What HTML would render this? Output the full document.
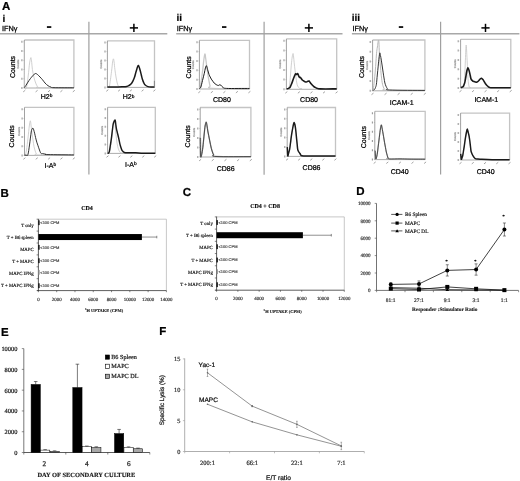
<!DOCTYPE html>
<html><head><meta charset="utf-8"><style>
html,body{margin:0;padding:0;background:#fff;}
body{width:520px;height:481px;overflow:hidden;font-family:"Liberation Sans", sans-serif;}
#w{will-change:transform;width:520px;height:481px;filter:blur(0.3px);}
svg{display:block;text-rendering:geometricPrecision;}
</style></head><body>
<div id="w">
<svg width="520" height="481" viewBox="0 0 520 481">
<rect width="520" height="481" fill="#fff"/>
<text x="2.10" y="10.30" font-size="11.5" font-family='"Liberation Sans", sans-serif' font-weight="bold" text-anchor="start" fill="#000" stroke="#000" stroke-width="0.23" >A</text>
<text x="2.60" y="21.60" font-size="10" font-family='"Liberation Sans", sans-serif' font-weight="bold" text-anchor="start" fill="#000" stroke="#000" stroke-width="0.20" >i</text>
<text x="1.90" y="30.80" font-size="7.3" font-family='"Liberation Sans", sans-serif' font-weight="normal" text-anchor="start" fill="#000" stroke="#000" stroke-width="0.26" >IFN&#947;</text>
<text x="176.60" y="21.00" font-size="10" font-family='"Liberation Sans", sans-serif' font-weight="bold" text-anchor="start" fill="#000" stroke="#000" stroke-width="0.20" >ii</text>
<text x="176.80" y="30.80" font-size="7.3" font-family='"Liberation Sans", sans-serif' font-weight="normal" text-anchor="start" fill="#000" stroke="#000" stroke-width="0.26" >IFN&#947;</text>
<text x="351.80" y="21.00" font-size="10" font-family='"Liberation Sans", sans-serif' font-weight="bold" text-anchor="start" fill="#000" stroke="#000" stroke-width="0.20" >iii</text>
<text x="352.50" y="30.80" font-size="7.3" font-family='"Liberation Sans", sans-serif' font-weight="normal" text-anchor="start" fill="#000" stroke="#000" stroke-width="0.26" >IFN&#947;</text>
<line x1="0.00" y1="33.80" x2="167.30" y2="33.80" stroke="#a8a8a8" stroke-width="1.4" />
<line x1="176.20" y1="33.80" x2="342.50" y2="33.80" stroke="#a8a8a8" stroke-width="1.4" />
<line x1="351.90" y1="33.80" x2="519.40" y2="33.80" stroke="#a8a8a8" stroke-width="1.4" />
<line x1="88.90" y1="21.70" x2="88.90" y2="174.50" stroke="#a0a0a0" stroke-width="1.2" />
<line x1="264.10" y1="21.80" x2="264.10" y2="174.70" stroke="#a0a0a0" stroke-width="1.2" />
<line x1="440.60" y1="21.80" x2="440.60" y2="174.40" stroke="#a0a0a0" stroke-width="1.2" />
<rect x="46.90" y="26.20" width="4.40" height="1.70" fill="#000" stroke="none" stroke-width="0"/>
<rect x="222.00" y="26.20" width="4.40" height="1.70" fill="#000" stroke="none" stroke-width="0"/>
<rect x="398.80" y="26.20" width="4.40" height="1.70" fill="#000" stroke="none" stroke-width="0"/>
<line x1="129.80" y1="27.90" x2="138.00" y2="27.90" stroke="#000" stroke-width="1.5" />
<line x1="133.90" y1="23.80" x2="133.90" y2="32.00" stroke="#000" stroke-width="1.5" />
<line x1="304.80" y1="27.90" x2="313.00" y2="27.90" stroke="#000" stroke-width="1.5" />
<line x1="308.90" y1="23.80" x2="308.90" y2="32.00" stroke="#000" stroke-width="1.5" />
<line x1="481.40" y1="27.90" x2="489.60" y2="27.90" stroke="#000" stroke-width="1.5" />
<line x1="485.50" y1="23.80" x2="485.50" y2="32.00" stroke="#000" stroke-width="1.5" />
<path d="M24.30,40.00 H73.90 V88.00" fill="none" stroke="#c4c4c4" stroke-width="1.3"/>
<line x1="24.30" y1="40.00" x2="24.30" y2="88.00" stroke="#7a7a7a" stroke-width="0.7" />
<line x1="24.30" y1="88.00" x2="73.90" y2="88.00" stroke="#8a8a8a" stroke-width="0.7" />
<line x1="23.40" y1="88.00" x2="24.30" y2="88.00" stroke="#999" stroke-width="0.5" />
<line x1="21.90" y1="87.00" x2="21.90" y2="89.00" stroke="#999" stroke-width="1.1" />
<line x1="23.40" y1="78.77" x2="24.30" y2="78.77" stroke="#999" stroke-width="0.5" />
<line x1="21.90" y1="77.77" x2="21.90" y2="79.77" stroke="#999" stroke-width="1.1" />
<line x1="23.40" y1="69.54" x2="24.30" y2="69.54" stroke="#999" stroke-width="0.5" />
<line x1="21.90" y1="68.54" x2="21.90" y2="70.54" stroke="#999" stroke-width="1.1" />
<line x1="23.40" y1="60.31" x2="24.30" y2="60.31" stroke="#999" stroke-width="0.5" />
<line x1="21.90" y1="59.31" x2="21.90" y2="61.31" stroke="#999" stroke-width="1.1" />
<line x1="23.40" y1="51.08" x2="24.30" y2="51.08" stroke="#999" stroke-width="0.5" />
<line x1="21.90" y1="50.08" x2="21.90" y2="52.08" stroke="#999" stroke-width="1.1" />
<line x1="23.40" y1="41.85" x2="24.30" y2="41.85" stroke="#999" stroke-width="0.5" />
<line x1="21.90" y1="40.85" x2="21.90" y2="42.85" stroke="#999" stroke-width="1.1" />
<line x1="23.20" y1="91.90" x2="25.20" y2="90.30" stroke="#9a9a9a" stroke-width="0.9" />
<line x1="35.60" y1="91.90" x2="37.60" y2="90.30" stroke="#9a9a9a" stroke-width="0.9" />
<line x1="48.00" y1="91.90" x2="50.00" y2="90.30" stroke="#9a9a9a" stroke-width="0.9" />
<line x1="60.40" y1="91.90" x2="62.40" y2="90.30" stroke="#9a9a9a" stroke-width="0.9" />
<line x1="72.80" y1="91.90" x2="74.80" y2="90.30" stroke="#9a9a9a" stroke-width="0.9" />
<path d="M24.50,70.00 C24.55,72.92 24.47,84.62 24.80,87.50 C25.13,90.38 25.93,89.22 26.50,87.30 C27.07,85.38 27.68,80.05 28.20,76.00 C28.72,71.95 29.15,66.07 29.60,63.00 C30.05,59.93 30.55,57.68 30.90,57.60 C31.25,57.52 31.45,60.53 31.70,62.50 C31.95,64.47 32.02,66.90 32.40,69.40 C32.78,71.90 33.45,75.23 34.00,77.50 C34.55,79.77 35.12,81.48 35.70,83.00 C36.28,84.52 36.87,85.83 37.50,86.60 C38.13,87.37 33.43,87.40 39.50,87.60 C45.57,87.80 68.17,87.77 73.90,87.80" fill="none" stroke="#c4c4c4" stroke-width="0.8" stroke-linejoin="round"/>
<path d="M24.30,87.60 C24.58,87.22 25.22,86.48 26.00,85.30 C26.78,84.12 28.08,81.85 29.00,80.50 C29.92,79.15 30.75,78.12 31.50,77.20 C32.25,76.28 32.92,75.60 33.50,75.00 C34.08,74.40 34.53,73.82 35.00,73.60 C35.47,73.38 35.87,73.53 36.30,73.70 C36.73,73.87 36.98,74.05 37.60,74.60 C38.22,75.15 39.20,76.17 40.00,77.00 C40.80,77.83 41.57,78.60 42.40,79.60 C43.23,80.60 44.07,81.98 45.00,83.00 C45.93,84.02 47.00,85.02 48.00,85.70 C49.00,86.38 50.00,86.77 51.00,87.10 C52.00,87.43 50.18,87.58 54.00,87.70 C57.82,87.82 70.58,87.78 73.90,87.80" fill="none" stroke="#1a1a1a" stroke-width="0.9" stroke-linejoin="round"/>
<text x="40.80" y="98.90" font-size="7" font-family='"Liberation Sans", sans-serif' fill="#000" stroke="#000" stroke-width="0.24">H2<tspan font-size="4.8" dy="-1.7">b</tspan></text>
<text x="0" y="0" transform="translate(14.60,67.00) rotate(-90)" font-size="7" font-family='"Liberation Sans", sans-serif' text-anchor="middle" fill="#000" stroke="#000" stroke-width="0.24">Counts</text>
<text x="0" y="0" transform="translate(19.30,64.00) rotate(-90)" font-size="2.8" font-family='"Liberation Sans", sans-serif' text-anchor="middle" fill="#999" stroke="#999" stroke-width="0.2">Counts</text>
<path d="M107.40,40.80 H154.50 V87.40" fill="none" stroke="#c4c4c4" stroke-width="1.3"/>
<line x1="107.40" y1="40.80" x2="107.40" y2="87.40" stroke="#7a7a7a" stroke-width="0.7" />
<line x1="107.40" y1="87.40" x2="154.50" y2="87.40" stroke="#8a8a8a" stroke-width="0.7" />
<line x1="106.50" y1="87.40" x2="107.40" y2="87.40" stroke="#999" stroke-width="0.5" />
<line x1="105.00" y1="86.40" x2="105.00" y2="88.40" stroke="#999" stroke-width="1.1" />
<line x1="106.50" y1="78.44" x2="107.40" y2="78.44" stroke="#999" stroke-width="0.5" />
<line x1="105.00" y1="77.44" x2="105.00" y2="79.44" stroke="#999" stroke-width="1.1" />
<line x1="106.50" y1="69.48" x2="107.40" y2="69.48" stroke="#999" stroke-width="0.5" />
<line x1="105.00" y1="68.48" x2="105.00" y2="70.48" stroke="#999" stroke-width="1.1" />
<line x1="106.50" y1="60.52" x2="107.40" y2="60.52" stroke="#999" stroke-width="0.5" />
<line x1="105.00" y1="59.52" x2="105.00" y2="61.52" stroke="#999" stroke-width="1.1" />
<line x1="106.50" y1="51.55" x2="107.40" y2="51.55" stroke="#999" stroke-width="0.5" />
<line x1="105.00" y1="50.55" x2="105.00" y2="52.55" stroke="#999" stroke-width="1.1" />
<line x1="106.50" y1="42.59" x2="107.40" y2="42.59" stroke="#999" stroke-width="0.5" />
<line x1="105.00" y1="41.59" x2="105.00" y2="43.59" stroke="#999" stroke-width="1.1" />
<line x1="106.30" y1="91.30" x2="108.30" y2="89.70" stroke="#9a9a9a" stroke-width="0.9" />
<line x1="118.08" y1="91.30" x2="120.08" y2="89.70" stroke="#9a9a9a" stroke-width="0.9" />
<line x1="129.85" y1="91.30" x2="131.85" y2="89.70" stroke="#9a9a9a" stroke-width="0.9" />
<line x1="141.62" y1="91.30" x2="143.62" y2="89.70" stroke="#9a9a9a" stroke-width="0.9" />
<line x1="153.40" y1="91.30" x2="155.40" y2="89.70" stroke="#9a9a9a" stroke-width="0.9" />
<path d="M108.50,87.30 C108.67,87.08 109.00,88.60 109.50,86.00 C110.00,83.40 110.98,75.70 111.50,71.70 C112.02,67.70 112.28,64.15 112.60,62.00 C112.92,59.85 113.15,58.80 113.40,58.80 C113.65,58.80 113.85,60.23 114.10,62.00 C114.35,63.77 114.58,66.90 114.90,69.40 C115.22,71.90 115.62,74.75 116.00,77.00 C116.38,79.25 116.73,81.27 117.20,82.90 C117.67,84.53 118.17,86.07 118.80,86.80 C119.43,87.53 120.63,87.22 121.00,87.30" fill="none" stroke="#c4c4c4" stroke-width="0.8" stroke-linejoin="round"/>
<path d="M107.40,86.90 C108.67,86.90 112.57,86.93 115.00,86.90 C117.43,86.87 120.05,86.78 122.00,86.70 C123.95,86.62 125.53,86.60 126.70,86.40 C127.87,86.20 128.25,85.93 129.00,85.50 C129.75,85.07 130.53,84.58 131.20,83.80 C131.87,83.02 132.45,81.88 133.00,80.80 C133.55,79.72 134.03,78.68 134.50,77.30 C134.97,75.92 135.42,73.85 135.80,72.50 C136.18,71.15 136.42,70.37 136.80,69.20 C137.18,68.03 137.70,65.82 138.10,65.50 C138.50,65.18 138.85,66.47 139.20,67.30 C139.55,68.13 139.85,69.22 140.20,70.50 C140.55,71.78 140.93,73.53 141.30,75.00 C141.67,76.47 141.98,78.00 142.40,79.30 C142.82,80.60 143.33,81.85 143.80,82.80 C144.27,83.75 144.50,84.37 145.20,85.00 C145.90,85.63 146.87,86.28 148.00,86.60 C149.13,86.92 150.92,86.85 152.00,86.90 C153.08,86.95 154.08,86.90 154.50,86.90" fill="none" stroke="#1a1a1a" stroke-width="1.5" stroke-linejoin="round"/>
<text x="122.70" y="99.20" font-size="7" font-family='"Liberation Sans", sans-serif' fill="#000" stroke="#000" stroke-width="0.24">H2<tspan font-size="4.8" dy="-1.7">b</tspan></text>
<text x="0" y="0" transform="translate(102.40,64.10) rotate(-90)" font-size="2.8" font-family='"Liberation Sans", sans-serif' text-anchor="middle" fill="#999" stroke="#999" stroke-width="0.2">Counts</text>
<line x1="154.40" y1="80.80" x2="154.40" y2="87.20" stroke="#777" stroke-width="0.8" />
<path d="M24.50,107.40 H73.90 V155.40" fill="none" stroke="#c4c4c4" stroke-width="1.3"/>
<line x1="24.50" y1="107.40" x2="24.50" y2="155.40" stroke="#7a7a7a" stroke-width="0.7" />
<line x1="24.50" y1="155.40" x2="73.90" y2="155.40" stroke="#8a8a8a" stroke-width="0.7" />
<line x1="23.60" y1="155.40" x2="24.50" y2="155.40" stroke="#999" stroke-width="0.5" />
<line x1="22.10" y1="154.40" x2="22.10" y2="156.40" stroke="#999" stroke-width="1.1" />
<line x1="23.60" y1="146.17" x2="24.50" y2="146.17" stroke="#999" stroke-width="0.5" />
<line x1="22.10" y1="145.17" x2="22.10" y2="147.17" stroke="#999" stroke-width="1.1" />
<line x1="23.60" y1="136.94" x2="24.50" y2="136.94" stroke="#999" stroke-width="0.5" />
<line x1="22.10" y1="135.94" x2="22.10" y2="137.94" stroke="#999" stroke-width="1.1" />
<line x1="23.60" y1="127.71" x2="24.50" y2="127.71" stroke="#999" stroke-width="0.5" />
<line x1="22.10" y1="126.71" x2="22.10" y2="128.71" stroke="#999" stroke-width="1.1" />
<line x1="23.60" y1="118.48" x2="24.50" y2="118.48" stroke="#999" stroke-width="0.5" />
<line x1="22.10" y1="117.48" x2="22.10" y2="119.48" stroke="#999" stroke-width="1.1" />
<line x1="23.60" y1="109.25" x2="24.50" y2="109.25" stroke="#999" stroke-width="0.5" />
<line x1="22.10" y1="108.25" x2="22.10" y2="110.25" stroke="#999" stroke-width="1.1" />
<line x1="23.40" y1="159.30" x2="25.40" y2="157.70" stroke="#9a9a9a" stroke-width="0.9" />
<line x1="35.75" y1="159.30" x2="37.75" y2="157.70" stroke="#9a9a9a" stroke-width="0.9" />
<line x1="48.10" y1="159.30" x2="50.10" y2="157.70" stroke="#9a9a9a" stroke-width="0.9" />
<line x1="60.45" y1="159.30" x2="62.45" y2="157.70" stroke="#9a9a9a" stroke-width="0.9" />
<line x1="72.80" y1="159.30" x2="74.80" y2="157.70" stroke="#9a9a9a" stroke-width="0.9" />
<path d="M25.30,155.20 C25.50,154.33 26.05,152.87 26.50,150.00 C26.95,147.13 27.53,142.00 28.00,138.00 C28.47,134.00 28.92,128.87 29.30,126.00 C29.68,123.13 30.02,120.97 30.30,120.80 C30.58,120.63 30.75,123.13 31.00,125.00 C31.25,126.87 31.47,129.50 31.80,132.00 C32.13,134.50 32.63,137.57 33.00,140.00 C33.37,142.43 33.63,144.77 34.00,146.60 C34.37,148.43 34.82,149.83 35.20,151.00 C35.58,152.17 35.83,152.93 36.30,153.60 C36.77,154.27 31.73,154.73 38.00,155.00 C44.27,155.27 67.92,155.17 73.90,155.20" fill="none" stroke="#c4c4c4" stroke-width="0.8" stroke-linejoin="round"/>
<path d="M24.50,155.20 C24.75,155.18 25.43,155.20 26.00,155.10 C26.57,155.00 27.32,156.28 27.90,154.60 C28.48,152.92 28.95,148.77 29.50,145.00 C30.05,141.23 30.77,134.67 31.20,132.00 C31.63,129.33 31.82,129.65 32.10,129.00 C32.38,128.35 32.63,127.97 32.90,128.10 C33.17,128.23 33.42,128.95 33.70,129.80 C33.98,130.65 34.28,131.90 34.60,133.20 C34.92,134.50 35.23,136.10 35.60,137.60 C35.97,139.10 36.40,140.85 36.80,142.20 C37.20,143.55 37.62,144.58 38.00,145.70 C38.38,146.82 38.63,147.65 39.10,148.90 C39.57,150.15 40.23,152.42 40.80,153.20 C41.37,153.98 41.97,153.48 42.50,153.60 C43.03,153.72 43.42,153.78 44.00,153.90 C44.58,154.02 45.33,154.18 46.00,154.30 C46.67,154.42 43.35,154.50 48.00,154.60 C52.65,154.70 69.58,154.85 73.90,154.90" fill="none" stroke="#1a1a1a" stroke-width="0.9" stroke-linejoin="round"/>
<text x="44.50" y="168.00" font-size="7" font-family='"Liberation Sans", sans-serif' fill="#000" stroke="#000" stroke-width="0.24">I-A<tspan font-size="4.8" dy="-1.7">b</tspan></text>
<text x="0" y="0" transform="translate(14.00,136.30) rotate(-90)" font-size="7" font-family='"Liberation Sans", sans-serif' text-anchor="middle" fill="#000" stroke="#000" stroke-width="0.24">Counts</text>
<text x="0" y="0" transform="translate(19.50,131.40) rotate(-90)" font-size="2.8" font-family='"Liberation Sans", sans-serif' text-anchor="middle" fill="#999" stroke="#999" stroke-width="0.2">Counts</text>
<path d="M107.60,107.40 H155.30 V153.40" fill="none" stroke="#c4c4c4" stroke-width="1.3"/>
<line x1="107.60" y1="107.40" x2="107.60" y2="153.40" stroke="#7a7a7a" stroke-width="0.7" />
<line x1="107.60" y1="153.40" x2="155.30" y2="153.40" stroke="#8a8a8a" stroke-width="0.7" />
<line x1="106.70" y1="153.40" x2="107.60" y2="153.40" stroke="#999" stroke-width="0.5" />
<line x1="105.20" y1="152.40" x2="105.20" y2="154.40" stroke="#999" stroke-width="1.1" />
<line x1="106.70" y1="144.55" x2="107.60" y2="144.55" stroke="#999" stroke-width="0.5" />
<line x1="105.20" y1="143.55" x2="105.20" y2="145.55" stroke="#999" stroke-width="1.1" />
<line x1="106.70" y1="135.71" x2="107.60" y2="135.71" stroke="#999" stroke-width="0.5" />
<line x1="105.20" y1="134.71" x2="105.20" y2="136.71" stroke="#999" stroke-width="1.1" />
<line x1="106.70" y1="126.86" x2="107.60" y2="126.86" stroke="#999" stroke-width="0.5" />
<line x1="105.20" y1="125.86" x2="105.20" y2="127.86" stroke="#999" stroke-width="1.1" />
<line x1="106.70" y1="118.02" x2="107.60" y2="118.02" stroke="#999" stroke-width="0.5" />
<line x1="105.20" y1="117.02" x2="105.20" y2="119.02" stroke="#999" stroke-width="1.1" />
<line x1="106.70" y1="109.17" x2="107.60" y2="109.17" stroke="#999" stroke-width="0.5" />
<line x1="105.20" y1="108.17" x2="105.20" y2="110.17" stroke="#999" stroke-width="1.1" />
<line x1="106.50" y1="157.30" x2="108.50" y2="155.70" stroke="#9a9a9a" stroke-width="0.9" />
<line x1="118.43" y1="157.30" x2="120.43" y2="155.70" stroke="#9a9a9a" stroke-width="0.9" />
<line x1="130.35" y1="157.30" x2="132.35" y2="155.70" stroke="#9a9a9a" stroke-width="0.9" />
<line x1="142.28" y1="157.30" x2="144.28" y2="155.70" stroke="#9a9a9a" stroke-width="0.9" />
<line x1="154.20" y1="157.30" x2="156.20" y2="155.70" stroke="#9a9a9a" stroke-width="0.9" />
<path d="M109.00,153.20 C109.23,152.48 109.93,151.77 110.40,148.90 C110.87,146.03 111.33,140.30 111.80,136.00 C112.27,131.70 112.73,125.63 113.20,123.10 C113.67,120.57 114.22,119.65 114.60,120.80 C114.98,121.95 115.18,126.97 115.50,130.00 C115.82,133.03 116.13,136.23 116.50,139.00 C116.87,141.77 117.12,144.38 117.70,146.60 C118.28,148.82 119.12,151.23 120.00,152.30 C120.88,153.37 122.50,152.88 123.00,153.00" fill="none" stroke="#c4c4c4" stroke-width="0.8" stroke-linejoin="round"/>
<path d="M107.60,153.20 C107.70,153.20 107.92,153.47 108.20,153.20 C108.48,152.93 108.93,152.97 109.30,151.60 C109.67,150.23 110.03,147.32 110.40,145.00 C110.77,142.68 111.17,140.20 111.50,137.70 C111.83,135.20 112.12,132.25 112.40,130.00 C112.68,127.75 112.88,125.70 113.20,124.20 C113.52,122.70 113.97,121.65 114.30,121.00 C114.63,120.35 114.95,119.72 115.20,120.30 C115.45,120.88 115.60,123.10 115.80,124.50 C116.00,125.90 116.13,127.32 116.40,128.70 C116.67,130.08 117.08,131.50 117.40,132.80 C117.72,134.10 118.00,135.20 118.30,136.50 C118.60,137.80 118.92,139.28 119.20,140.60 C119.48,141.92 119.68,143.17 120.00,144.40 C120.32,145.63 120.73,146.97 121.10,148.00 C121.47,149.03 121.65,149.85 122.20,150.60 C122.75,151.35 123.10,152.15 124.40,152.50 C125.70,152.85 128.12,152.65 130.00,152.70 C131.88,152.75 133.45,152.72 135.70,152.80 C137.95,152.88 140.23,153.13 143.50,153.20 C146.77,153.27 153.33,153.20 155.30,153.20" fill="none" stroke="#1a1a1a" stroke-width="1.45" stroke-linejoin="round"/>
<text x="125.00" y="166.80" font-size="7" font-family='"Liberation Sans", sans-serif' fill="#000" stroke="#000" stroke-width="0.24">I-A<tspan font-size="4.8" dy="-1.7">b</tspan></text>
<text x="0" y="0" transform="translate(102.60,130.40) rotate(-90)" font-size="2.8" font-family='"Liberation Sans", sans-serif' text-anchor="middle" fill="#999" stroke="#999" stroke-width="0.2">Counts</text>
<path d="M199.40,40.40 H249.50 V89.00" fill="none" stroke="#c4c4c4" stroke-width="1.3"/>
<line x1="199.40" y1="40.40" x2="199.40" y2="89.00" stroke="#7a7a7a" stroke-width="0.7" />
<line x1="199.40" y1="89.00" x2="249.50" y2="89.00" stroke="#8a8a8a" stroke-width="0.7" />
<line x1="198.50" y1="89.00" x2="199.40" y2="89.00" stroke="#999" stroke-width="0.5" />
<line x1="197.00" y1="88.00" x2="197.00" y2="90.00" stroke="#999" stroke-width="1.1" />
<line x1="198.50" y1="79.65" x2="199.40" y2="79.65" stroke="#999" stroke-width="0.5" />
<line x1="197.00" y1="78.65" x2="197.00" y2="80.65" stroke="#999" stroke-width="1.1" />
<line x1="198.50" y1="70.31" x2="199.40" y2="70.31" stroke="#999" stroke-width="0.5" />
<line x1="197.00" y1="69.31" x2="197.00" y2="71.31" stroke="#999" stroke-width="1.1" />
<line x1="198.50" y1="60.96" x2="199.40" y2="60.96" stroke="#999" stroke-width="0.5" />
<line x1="197.00" y1="59.96" x2="197.00" y2="61.96" stroke="#999" stroke-width="1.1" />
<line x1="198.50" y1="51.62" x2="199.40" y2="51.62" stroke="#999" stroke-width="0.5" />
<line x1="197.00" y1="50.62" x2="197.00" y2="52.62" stroke="#999" stroke-width="1.1" />
<line x1="198.50" y1="42.27" x2="199.40" y2="42.27" stroke="#999" stroke-width="0.5" />
<line x1="197.00" y1="41.27" x2="197.00" y2="43.27" stroke="#999" stroke-width="1.1" />
<line x1="198.30" y1="92.90" x2="200.30" y2="91.30" stroke="#9a9a9a" stroke-width="0.9" />
<line x1="210.83" y1="92.90" x2="212.83" y2="91.30" stroke="#9a9a9a" stroke-width="0.9" />
<line x1="223.35" y1="92.90" x2="225.35" y2="91.30" stroke="#9a9a9a" stroke-width="0.9" />
<line x1="235.88" y1="92.90" x2="237.88" y2="91.30" stroke="#9a9a9a" stroke-width="0.9" />
<line x1="248.40" y1="92.90" x2="250.40" y2="91.30" stroke="#9a9a9a" stroke-width="0.9" />
<path d="M199.80,88.50 C199.92,88.17 200.22,88.08 200.50,86.50 C200.78,84.92 201.15,81.60 201.50,79.00 C201.85,76.40 202.22,74.07 202.60,70.90 C202.98,67.73 203.42,62.82 203.80,60.00 C204.18,57.18 204.58,54.25 204.90,54.00 C205.22,53.75 205.42,56.65 205.70,58.50 C205.98,60.35 206.30,62.93 206.60,65.10 C206.90,67.27 207.20,69.37 207.50,71.50 C207.80,73.63 208.10,76.07 208.40,77.90 C208.70,79.73 209.02,81.13 209.30,82.50 C209.58,83.87 209.65,85.13 210.10,86.10 C210.55,87.07 205.43,87.90 212.00,88.30 C218.57,88.70 243.25,88.47 249.50,88.50" fill="none" stroke="#c8c8c8" stroke-width="1.3" stroke-linejoin="round"/>
<path d="M199.40,88.60 C199.63,88.37 200.28,88.55 200.80,87.20 C201.32,85.85 201.92,82.82 202.50,80.50 C203.08,78.18 203.82,75.38 204.30,73.30 C204.78,71.22 205.05,69.27 205.40,68.00 C205.75,66.73 206.03,65.45 206.40,65.70 C206.77,65.95 207.17,68.05 207.60,69.50 C208.03,70.95 208.57,73.15 209.00,74.40 C209.43,75.65 209.82,76.22 210.20,77.00 C210.58,77.78 210.87,78.40 211.30,79.10 C211.73,79.80 212.32,80.53 212.80,81.20 C213.28,81.87 213.63,82.53 214.20,83.10 C214.77,83.67 215.52,84.20 216.20,84.60 C216.88,85.00 217.67,85.50 218.30,85.50 C218.93,85.50 219.47,84.52 220.00,84.60 C220.53,84.68 221.00,85.57 221.50,86.00 C222.00,86.43 222.18,86.80 223.00,87.20 C223.82,87.60 221.98,88.17 226.40,88.40 C230.82,88.63 245.65,88.57 249.50,88.60" fill="none" stroke="#1a1a1a" stroke-width="1.0" stroke-linejoin="round"/>
<text x="213.00" y="102.40" font-size="7" font-family='"Liberation Sans", sans-serif' fill="#000" stroke="#000" stroke-width="0.24">CD80</text>
<text x="0" y="0" transform="translate(190.70,67.30) rotate(-90)" font-size="7" font-family='"Liberation Sans", sans-serif' text-anchor="middle" fill="#000" stroke="#000" stroke-width="0.24">Counts</text>
<text x="0" y="0" transform="translate(194.40,64.70) rotate(-90)" font-size="2.8" font-family='"Liberation Sans", sans-serif' text-anchor="middle" fill="#999" stroke="#999" stroke-width="0.2">Counts</text>
<path d="M286.40,38.90 H336.70 V89.30" fill="none" stroke="#c4c4c4" stroke-width="1.3"/>
<line x1="286.40" y1="38.90" x2="286.40" y2="89.30" stroke="#7a7a7a" stroke-width="0.7" />
<line x1="286.40" y1="89.30" x2="336.70" y2="89.30" stroke="#8a8a8a" stroke-width="0.7" />
<line x1="285.50" y1="89.30" x2="286.40" y2="89.30" stroke="#999" stroke-width="0.5" />
<line x1="284.00" y1="88.30" x2="284.00" y2="90.30" stroke="#999" stroke-width="1.1" />
<line x1="285.50" y1="79.61" x2="286.40" y2="79.61" stroke="#999" stroke-width="0.5" />
<line x1="284.00" y1="78.61" x2="284.00" y2="80.61" stroke="#999" stroke-width="1.1" />
<line x1="285.50" y1="69.92" x2="286.40" y2="69.92" stroke="#999" stroke-width="0.5" />
<line x1="284.00" y1="68.92" x2="284.00" y2="70.92" stroke="#999" stroke-width="1.1" />
<line x1="285.50" y1="60.22" x2="286.40" y2="60.22" stroke="#999" stroke-width="0.5" />
<line x1="284.00" y1="59.22" x2="284.00" y2="61.22" stroke="#999" stroke-width="1.1" />
<line x1="285.50" y1="50.53" x2="286.40" y2="50.53" stroke="#999" stroke-width="0.5" />
<line x1="284.00" y1="49.53" x2="284.00" y2="51.53" stroke="#999" stroke-width="1.1" />
<line x1="285.50" y1="40.84" x2="286.40" y2="40.84" stroke="#999" stroke-width="0.5" />
<line x1="284.00" y1="39.84" x2="284.00" y2="41.84" stroke="#999" stroke-width="1.1" />
<line x1="285.30" y1="93.20" x2="287.30" y2="91.60" stroke="#9a9a9a" stroke-width="0.9" />
<line x1="297.87" y1="93.20" x2="299.87" y2="91.60" stroke="#9a9a9a" stroke-width="0.9" />
<line x1="310.45" y1="93.20" x2="312.45" y2="91.60" stroke="#9a9a9a" stroke-width="0.9" />
<line x1="323.02" y1="93.20" x2="325.02" y2="91.60" stroke="#9a9a9a" stroke-width="0.9" />
<line x1="335.60" y1="93.20" x2="337.60" y2="91.60" stroke="#9a9a9a" stroke-width="0.9" />
<path d="M287.50,88.60 C287.68,88.47 288.25,88.42 288.60,87.80 C288.95,87.18 289.28,87.03 289.60,84.90 C289.92,82.77 290.22,78.30 290.50,75.00 C290.78,71.70 291.02,68.10 291.30,65.10 C291.58,62.10 291.90,58.93 292.20,57.00 C292.50,55.07 292.87,53.50 293.10,53.50 C293.33,53.50 293.42,55.45 293.60,57.00 C293.78,58.55 293.97,60.63 294.20,62.80 C294.43,64.97 294.70,67.48 295.00,70.00 C295.30,72.52 295.70,75.73 296.00,77.90 C296.30,80.07 296.52,81.63 296.80,83.00 C297.08,84.37 297.25,85.22 297.70,86.10 C298.15,86.98 298.78,87.88 299.50,88.30 C300.22,88.72 301.58,88.55 302.00,88.60" fill="none" stroke="#c4c4c4" stroke-width="0.8" stroke-linejoin="round"/>
<path d="M286.70,88.90 C287.00,88.82 287.93,88.68 288.50,88.40 C289.07,88.12 289.63,87.85 290.10,87.20 C290.57,86.55 290.90,85.47 291.30,84.50 C291.70,83.53 292.15,82.35 292.50,81.40 C292.85,80.45 293.12,79.58 293.40,78.80 C293.68,78.02 293.93,77.37 294.20,76.70 C294.47,76.03 294.75,75.28 295.00,74.80 C295.25,74.32 295.42,73.85 295.70,73.80 C295.98,73.75 296.37,74.53 296.70,74.50 C297.03,74.47 297.38,73.38 297.70,73.60 C298.02,73.82 298.30,75.18 298.60,75.80 C298.90,76.42 299.20,77.02 299.50,77.30 C299.80,77.58 300.12,77.30 300.40,77.50 C300.68,77.70 300.88,78.08 301.20,78.50 C301.52,78.92 301.92,79.62 302.30,80.00 C302.68,80.38 303.05,80.52 303.50,80.80 C303.95,81.08 304.52,81.50 305.00,81.70 C305.48,81.90 305.93,82.07 306.40,82.00 C306.87,81.93 307.37,81.45 307.80,81.30 C308.23,81.15 308.63,80.93 309.00,81.10 C309.37,81.27 309.65,81.87 310.00,82.30 C310.35,82.73 310.73,83.25 311.10,83.70 C311.47,84.15 311.82,84.60 312.20,85.00 C312.58,85.40 312.93,85.72 313.40,86.10 C313.87,86.48 314.42,86.95 315.00,87.30 C315.58,87.65 316.00,87.93 316.90,88.20 C317.80,88.47 317.10,88.78 320.40,88.90 C323.70,89.02 333.98,88.90 336.70,88.90" fill="none" stroke="#1a1a1a" stroke-width="1.6" stroke-linejoin="round"/>
<text x="300.10" y="102.40" font-size="7" font-family='"Liberation Sans", sans-serif' fill="#000" stroke="#000" stroke-width="0.24">CD80</text>
<text x="0" y="0" transform="translate(281.40,64.10) rotate(-90)" font-size="2.8" font-family='"Liberation Sans", sans-serif' text-anchor="middle" fill="#999" stroke="#999" stroke-width="0.2">Counts</text>
<path d="M200.20,107.50 H250.90 V157.00" fill="none" stroke="#c4c4c4" stroke-width="1.3"/>
<line x1="200.20" y1="107.50" x2="200.20" y2="157.00" stroke="#7a7a7a" stroke-width="0.7" />
<line x1="200.20" y1="157.00" x2="250.90" y2="157.00" stroke="#8a8a8a" stroke-width="0.7" />
<line x1="199.30" y1="157.00" x2="200.20" y2="157.00" stroke="#999" stroke-width="0.5" />
<line x1="197.80" y1="156.00" x2="197.80" y2="158.00" stroke="#999" stroke-width="1.1" />
<line x1="199.30" y1="147.48" x2="200.20" y2="147.48" stroke="#999" stroke-width="0.5" />
<line x1="197.80" y1="146.48" x2="197.80" y2="148.48" stroke="#999" stroke-width="1.1" />
<line x1="199.30" y1="137.96" x2="200.20" y2="137.96" stroke="#999" stroke-width="0.5" />
<line x1="197.80" y1="136.96" x2="197.80" y2="138.96" stroke="#999" stroke-width="1.1" />
<line x1="199.30" y1="128.44" x2="200.20" y2="128.44" stroke="#999" stroke-width="0.5" />
<line x1="197.80" y1="127.44" x2="197.80" y2="129.44" stroke="#999" stroke-width="1.1" />
<line x1="199.30" y1="118.92" x2="200.20" y2="118.92" stroke="#999" stroke-width="0.5" />
<line x1="197.80" y1="117.92" x2="197.80" y2="119.92" stroke="#999" stroke-width="1.1" />
<line x1="199.30" y1="109.40" x2="200.20" y2="109.40" stroke="#999" stroke-width="0.5" />
<line x1="197.80" y1="108.40" x2="197.80" y2="110.40" stroke="#999" stroke-width="1.1" />
<line x1="199.10" y1="160.90" x2="201.10" y2="159.30" stroke="#9a9a9a" stroke-width="0.9" />
<line x1="211.78" y1="160.90" x2="213.78" y2="159.30" stroke="#9a9a9a" stroke-width="0.9" />
<line x1="224.45" y1="160.90" x2="226.45" y2="159.30" stroke="#9a9a9a" stroke-width="0.9" />
<line x1="237.12" y1="160.90" x2="239.12" y2="159.30" stroke="#9a9a9a" stroke-width="0.9" />
<line x1="249.80" y1="160.90" x2="251.80" y2="159.30" stroke="#9a9a9a" stroke-width="0.9" />
<path d="M200.50,138.00 C200.57,141.00 200.65,153.52 200.90,156.00 C201.15,158.48 201.65,154.57 202.00,152.90 C202.35,151.23 202.72,148.33 203.00,146.00 C203.28,143.67 203.38,142.02 203.70,138.90 C204.02,135.78 204.58,129.87 204.90,127.30 C205.22,124.73 205.37,124.38 205.60,123.50 C205.83,122.62 206.07,121.67 206.30,122.00 C206.53,122.33 206.75,124.03 207.00,125.50 C207.25,126.97 207.52,129.13 207.80,130.80 C208.08,132.47 208.40,133.95 208.70,135.50 C209.00,137.05 209.30,138.60 209.60,140.10 C209.90,141.60 210.22,143.15 210.50,144.50 C210.78,145.85 210.98,146.98 211.30,148.20 C211.62,149.42 212.02,150.73 212.40,151.80 C212.78,152.87 213.00,153.83 213.60,154.60 C214.20,155.37 209.78,156.07 216.00,156.40 C222.22,156.73 245.08,156.57 250.90,156.60" fill="none" stroke="#a0a0a0" stroke-width="1.3" stroke-linejoin="round"/>
<path d="M200.20,137.80 C200.27,140.92 200.30,153.97 200.60,156.50 C200.90,159.03 201.60,154.75 202.00,153.00 C202.40,151.25 202.72,148.33 203.00,146.00 C203.28,143.67 203.38,142.08 203.70,139.00 C204.02,135.92 204.58,130.03 204.90,127.50 C205.22,124.97 205.37,124.67 205.60,123.80 C205.83,122.93 206.07,121.97 206.30,122.30 C206.53,122.63 206.75,124.35 207.00,125.80 C207.25,127.25 207.52,129.37 207.80,131.00 C208.08,132.63 208.40,134.07 208.70,135.60 C209.00,137.13 209.30,138.70 209.60,140.20 C209.90,141.70 210.22,143.25 210.50,144.60 C210.78,145.95 210.98,147.08 211.30,148.30 C211.62,149.52 212.02,150.83 212.40,151.90 C212.78,152.97 213.00,153.93 213.60,154.70 C214.20,155.47 209.78,156.18 216.00,156.50 C222.22,156.82 245.08,156.58 250.90,156.60" fill="none" stroke="#333" stroke-width="0.8" stroke-linejoin="round"/>
<text x="216.70" y="170.60" font-size="7" font-family='"Liberation Sans", sans-serif' fill="#000" stroke="#000" stroke-width="0.24">CD86</text>
<text x="0" y="0" transform="translate(190.30,136.30) rotate(-90)" font-size="7" font-family='"Liberation Sans", sans-serif' text-anchor="middle" fill="#000" stroke="#000" stroke-width="0.24">Counts</text>
<text x="0" y="0" transform="translate(195.20,132.25) rotate(-90)" font-size="2.8" font-family='"Liberation Sans", sans-serif' text-anchor="middle" fill="#999" stroke="#999" stroke-width="0.2">Counts</text>
<path d="M287.20,107.50 H335.50 V156.40" fill="none" stroke="#c4c4c4" stroke-width="1.3"/>
<line x1="287.20" y1="107.50" x2="287.20" y2="156.40" stroke="#7a7a7a" stroke-width="0.7" />
<line x1="287.20" y1="156.40" x2="335.50" y2="156.40" stroke="#8a8a8a" stroke-width="0.7" />
<line x1="286.30" y1="156.40" x2="287.20" y2="156.40" stroke="#999" stroke-width="0.5" />
<line x1="284.80" y1="155.40" x2="284.80" y2="157.40" stroke="#999" stroke-width="1.1" />
<line x1="286.30" y1="147.00" x2="287.20" y2="147.00" stroke="#999" stroke-width="0.5" />
<line x1="284.80" y1="146.00" x2="284.80" y2="148.00" stroke="#999" stroke-width="1.1" />
<line x1="286.30" y1="137.59" x2="287.20" y2="137.59" stroke="#999" stroke-width="0.5" />
<line x1="284.80" y1="136.59" x2="284.80" y2="138.59" stroke="#999" stroke-width="1.1" />
<line x1="286.30" y1="128.19" x2="287.20" y2="128.19" stroke="#999" stroke-width="0.5" />
<line x1="284.80" y1="127.19" x2="284.80" y2="129.19" stroke="#999" stroke-width="1.1" />
<line x1="286.30" y1="118.78" x2="287.20" y2="118.78" stroke="#999" stroke-width="0.5" />
<line x1="284.80" y1="117.78" x2="284.80" y2="119.78" stroke="#999" stroke-width="1.1" />
<line x1="286.30" y1="109.38" x2="287.20" y2="109.38" stroke="#999" stroke-width="0.5" />
<line x1="284.80" y1="108.38" x2="284.80" y2="110.38" stroke="#999" stroke-width="1.1" />
<line x1="286.10" y1="160.30" x2="288.10" y2="158.70" stroke="#9a9a9a" stroke-width="0.9" />
<line x1="298.17" y1="160.30" x2="300.17" y2="158.70" stroke="#9a9a9a" stroke-width="0.9" />
<line x1="310.25" y1="160.30" x2="312.25" y2="158.70" stroke="#9a9a9a" stroke-width="0.9" />
<line x1="322.32" y1="160.30" x2="324.32" y2="158.70" stroke="#9a9a9a" stroke-width="0.9" />
<line x1="334.40" y1="160.30" x2="336.40" y2="158.70" stroke="#9a9a9a" stroke-width="0.9" />
<path d="M288.00,155.80 C288.27,154.73 289.05,152.60 289.60,149.40 C290.15,146.20 290.72,140.48 291.30,136.60 C291.88,132.72 292.62,128.40 293.10,126.10 C293.58,123.80 293.82,122.57 294.20,122.80 C294.58,123.03 295.00,124.80 295.40,127.50 C295.80,130.20 296.22,135.35 296.60,139.00 C296.98,142.65 297.22,147.07 297.70,149.40 C298.18,151.73 298.82,151.93 299.50,153.00 C300.18,154.07 301.42,155.33 301.80,155.80" fill="none" stroke="#c4c4c4" stroke-width="0.8" stroke-linejoin="round"/>
<path d="M287.30,147.10 C287.38,148.55 287.58,154.82 287.80,155.80 C288.02,156.78 288.30,154.07 288.60,153.00 C288.90,151.93 289.28,151.07 289.60,149.40 C289.92,147.73 290.22,145.13 290.50,143.00 C290.78,140.87 291.02,138.60 291.30,136.60 C291.58,134.60 291.90,132.75 292.20,131.00 C292.50,129.25 292.85,127.35 293.10,126.10 C293.35,124.85 293.52,124.08 293.70,123.50 C293.88,122.92 294.02,122.48 294.20,122.60 C294.38,122.72 294.60,123.42 294.80,124.20 C295.00,124.98 295.20,125.92 295.40,127.30 C295.60,128.68 295.80,130.57 296.00,132.50 C296.20,134.43 296.40,136.90 296.60,138.90 C296.80,140.90 297.02,142.75 297.20,144.50 C297.38,146.25 297.48,148.23 297.70,149.40 C297.92,150.57 298.20,150.92 298.50,151.50 C298.80,152.08 299.15,152.40 299.50,152.90 C299.85,153.40 300.22,154.02 300.60,154.50 C300.98,154.98 300.23,155.55 301.80,155.80 C303.37,156.05 304.38,155.97 310.00,156.00 C315.62,156.03 331.25,156.00 335.50,156.00" fill="none" stroke="#1a1a1a" stroke-width="1.45" stroke-linejoin="round"/>
<text x="302.60" y="170.40" font-size="7" font-family='"Liberation Sans", sans-serif' fill="#000" stroke="#000" stroke-width="0.24">CD86</text>
<text x="0" y="0" transform="translate(282.20,131.95) rotate(-90)" font-size="2.8" font-family='"Liberation Sans", sans-serif' text-anchor="middle" fill="#999" stroke="#999" stroke-width="0.2">Counts</text>
<path d="M372.60,40.00 H424.90 V90.80" fill="none" stroke="#c4c4c4" stroke-width="1.3"/>
<line x1="372.60" y1="40.00" x2="372.60" y2="90.80" stroke="#7a7a7a" stroke-width="0.7" />
<line x1="372.60" y1="90.80" x2="424.90" y2="90.80" stroke="#8a8a8a" stroke-width="0.7" />
<line x1="371.70" y1="90.80" x2="372.60" y2="90.80" stroke="#999" stroke-width="0.5" />
<line x1="370.20" y1="89.80" x2="370.20" y2="91.80" stroke="#999" stroke-width="1.1" />
<line x1="371.70" y1="81.03" x2="372.60" y2="81.03" stroke="#999" stroke-width="0.5" />
<line x1="370.20" y1="80.03" x2="370.20" y2="82.03" stroke="#999" stroke-width="1.1" />
<line x1="371.70" y1="71.26" x2="372.60" y2="71.26" stroke="#999" stroke-width="0.5" />
<line x1="370.20" y1="70.26" x2="370.20" y2="72.26" stroke="#999" stroke-width="1.1" />
<line x1="371.70" y1="61.49" x2="372.60" y2="61.49" stroke="#999" stroke-width="0.5" />
<line x1="370.20" y1="60.49" x2="370.20" y2="62.49" stroke="#999" stroke-width="1.1" />
<line x1="371.70" y1="51.72" x2="372.60" y2="51.72" stroke="#999" stroke-width="0.5" />
<line x1="370.20" y1="50.72" x2="370.20" y2="52.72" stroke="#999" stroke-width="1.1" />
<line x1="371.70" y1="41.95" x2="372.60" y2="41.95" stroke="#999" stroke-width="0.5" />
<line x1="370.20" y1="40.95" x2="370.20" y2="42.95" stroke="#999" stroke-width="1.1" />
<line x1="371.50" y1="94.70" x2="373.50" y2="93.10" stroke="#9a9a9a" stroke-width="0.9" />
<line x1="384.57" y1="94.70" x2="386.57" y2="93.10" stroke="#9a9a9a" stroke-width="0.9" />
<line x1="397.65" y1="94.70" x2="399.65" y2="93.10" stroke="#9a9a9a" stroke-width="0.9" />
<line x1="410.72" y1="94.70" x2="412.72" y2="93.10" stroke="#9a9a9a" stroke-width="0.9" />
<line x1="423.80" y1="94.70" x2="425.80" y2="93.10" stroke="#9a9a9a" stroke-width="0.9" />
<path d="M373.40,89.00 C373.55,87.67 374.00,83.82 374.30,81.00 C374.60,78.18 374.92,75.43 375.20,72.10 C375.48,68.77 375.75,64.40 376.00,61.00 C376.25,57.60 376.43,54.27 376.70,51.70 C376.97,49.13 377.33,47.45 377.60,45.60 C377.87,43.75 378.08,41.20 378.30,40.60 C378.52,40.00 378.72,39.77 378.90,42.00 C379.08,44.23 379.17,50.17 379.40,54.00 C379.63,57.83 379.98,61.37 380.30,65.00 C380.62,68.63 380.93,72.60 381.30,75.80 C381.67,79.00 382.00,82.00 382.50,84.20 C383.00,86.40 383.72,87.98 384.30,89.00 C384.88,90.02 379.23,90.07 386.00,90.30 C392.77,90.53 418.42,90.38 424.90,90.40" fill="none" stroke="#b8b8b8" stroke-width="1.0" stroke-linejoin="round"/>
<path d="M372.80,90.30 C372.93,90.25 373.30,90.15 373.60,90.00 C373.90,89.85 374.28,89.82 374.60,89.40 C374.92,88.98 375.20,88.37 375.50,87.50 C375.80,86.63 376.10,86.28 376.40,84.20 C376.70,82.12 377.00,78.02 377.30,75.00 C377.60,71.98 377.92,68.93 378.20,66.10 C378.48,63.27 378.73,60.20 379.00,58.00 C379.27,55.80 379.55,53.32 379.80,52.90 C380.05,52.48 380.25,54.30 380.50,55.50 C380.75,56.70 381.02,58.35 381.30,60.10 C381.58,61.85 381.90,64.00 382.20,66.00 C382.50,68.00 382.80,70.10 383.10,72.10 C383.40,74.10 383.70,76.18 384.00,78.00 C384.30,79.82 384.57,81.63 384.90,83.00 C385.23,84.37 385.60,85.30 386.00,86.20 C386.40,87.10 386.68,87.77 387.30,88.40 C387.92,89.03 383.43,89.67 389.70,90.00 C395.97,90.33 419.03,90.33 424.90,90.40" fill="none" stroke="#333" stroke-width="1.0" stroke-linejoin="round"/>
<text x="389.80" y="104.80" font-size="7" font-family='"Liberation Sans", sans-serif' fill="#000" stroke="#000" stroke-width="0.24">ICAM-1</text>
<text x="0" y="0" transform="translate(364.00,67.00) rotate(-90)" font-size="7" font-family='"Liberation Sans", sans-serif' text-anchor="middle" fill="#000" stroke="#000" stroke-width="0.24">Counts</text>
<text x="0" y="0" transform="translate(367.60,65.40) rotate(-90)" font-size="2.8" font-family='"Liberation Sans", sans-serif' text-anchor="middle" fill="#999" stroke="#999" stroke-width="0.2">Counts</text>
<path d="M460.60,39.40 H510.80 V88.00" fill="none" stroke="#c4c4c4" stroke-width="1.3"/>
<line x1="460.60" y1="39.40" x2="460.60" y2="88.00" stroke="#7a7a7a" stroke-width="0.7" />
<line x1="460.60" y1="88.00" x2="510.80" y2="88.00" stroke="#8a8a8a" stroke-width="0.7" />
<line x1="459.70" y1="88.00" x2="460.60" y2="88.00" stroke="#999" stroke-width="0.5" />
<line x1="458.20" y1="87.00" x2="458.20" y2="89.00" stroke="#999" stroke-width="1.1" />
<line x1="459.70" y1="78.65" x2="460.60" y2="78.65" stroke="#999" stroke-width="0.5" />
<line x1="458.20" y1="77.65" x2="458.20" y2="79.65" stroke="#999" stroke-width="1.1" />
<line x1="459.70" y1="69.31" x2="460.60" y2="69.31" stroke="#999" stroke-width="0.5" />
<line x1="458.20" y1="68.31" x2="458.20" y2="70.31" stroke="#999" stroke-width="1.1" />
<line x1="459.70" y1="59.96" x2="460.60" y2="59.96" stroke="#999" stroke-width="0.5" />
<line x1="458.20" y1="58.96" x2="458.20" y2="60.96" stroke="#999" stroke-width="1.1" />
<line x1="459.70" y1="50.62" x2="460.60" y2="50.62" stroke="#999" stroke-width="0.5" />
<line x1="458.20" y1="49.62" x2="458.20" y2="51.62" stroke="#999" stroke-width="1.1" />
<line x1="459.70" y1="41.27" x2="460.60" y2="41.27" stroke="#999" stroke-width="0.5" />
<line x1="458.20" y1="40.27" x2="458.20" y2="42.27" stroke="#999" stroke-width="1.1" />
<line x1="459.50" y1="91.90" x2="461.50" y2="90.30" stroke="#9a9a9a" stroke-width="0.9" />
<line x1="472.05" y1="91.90" x2="474.05" y2="90.30" stroke="#9a9a9a" stroke-width="0.9" />
<line x1="484.60" y1="91.90" x2="486.60" y2="90.30" stroke="#9a9a9a" stroke-width="0.9" />
<line x1="497.15" y1="91.90" x2="499.15" y2="90.30" stroke="#9a9a9a" stroke-width="0.9" />
<line x1="509.70" y1="91.90" x2="511.70" y2="90.30" stroke="#9a9a9a" stroke-width="0.9" />
<path d="M463.50,87.60 C463.65,87.03 464.17,86.80 464.40,84.20 C464.63,81.60 464.73,76.02 464.90,72.00 C465.07,67.98 465.25,63.77 465.40,60.10 C465.55,56.43 465.67,52.52 465.80,50.00 C465.93,47.48 466.07,45.00 466.20,45.00 C466.33,45.00 466.45,47.48 466.60,50.00 C466.75,52.52 466.93,56.77 467.10,60.10 C467.27,63.43 467.45,66.98 467.60,70.00 C467.75,73.02 467.83,75.87 468.00,78.20 C468.17,80.53 468.38,82.50 468.60,84.00 C468.82,85.50 468.90,86.60 469.30,87.20 C469.70,87.80 470.72,87.53 471.00,87.60" fill="none" stroke="#c4c4c4" stroke-width="0.8" stroke-linejoin="round"/>
<path d="M460.80,87.60 C461.00,87.53 461.60,87.40 462.00,87.20 C462.40,87.00 462.83,86.88 463.20,86.40 C463.57,85.92 463.90,85.10 464.20,84.30 C464.50,83.50 464.73,82.82 465.00,81.60 C465.27,80.38 465.53,78.58 465.80,77.00 C466.07,75.42 466.35,73.40 466.60,72.10 C466.85,70.80 467.07,69.90 467.30,69.20 C467.53,68.50 467.75,67.80 468.00,67.90 C468.25,68.00 468.55,69.10 468.80,69.80 C469.05,70.50 469.25,71.10 469.50,72.10 C469.75,73.10 470.03,74.62 470.30,75.80 C470.57,76.98 470.73,78.37 471.10,79.20 C471.47,80.03 472.00,80.40 472.50,80.80 C473.00,81.20 473.63,81.40 474.10,81.60 C474.57,81.80 474.90,81.90 475.30,82.00 C475.70,82.10 476.10,82.27 476.50,82.20 C476.90,82.13 477.30,81.88 477.70,81.60 C478.10,81.32 478.48,80.93 478.90,80.50 C479.32,80.07 479.77,79.38 480.20,79.00 C480.63,78.62 481.05,78.10 481.50,78.20 C481.95,78.30 482.43,79.02 482.90,79.60 C483.37,80.18 483.87,81.02 484.30,81.70 C484.73,82.38 485.10,83.12 485.50,83.70 C485.90,84.28 486.25,84.72 486.70,85.20 C487.15,85.68 487.70,86.22 488.20,86.60 C488.70,86.98 488.90,87.30 489.70,87.50 C490.50,87.70 489.48,87.75 493.00,87.80 C496.52,87.85 507.83,87.80 510.80,87.80" fill="none" stroke="#1a1a1a" stroke-width="1.6" stroke-linejoin="round"/>
<text x="474.40" y="102.40" font-size="7" font-family='"Liberation Sans", sans-serif' fill="#000" stroke="#000" stroke-width="0.24">ICAM-1</text>
<text x="0" y="0" transform="translate(455.60,63.70) rotate(-90)" font-size="2.8" font-family='"Liberation Sans", sans-serif' text-anchor="middle" fill="#999" stroke="#999" stroke-width="0.2">Counts</text>
<path d="M374.80,111.40 H425.20 V159.60" fill="none" stroke="#c4c4c4" stroke-width="1.3"/>
<line x1="374.80" y1="111.40" x2="374.80" y2="159.60" stroke="#7a7a7a" stroke-width="0.7" />
<line x1="374.80" y1="159.60" x2="425.20" y2="159.60" stroke="#8a8a8a" stroke-width="0.7" />
<line x1="373.90" y1="159.60" x2="374.80" y2="159.60" stroke="#999" stroke-width="0.5" />
<line x1="372.40" y1="158.60" x2="372.40" y2="160.60" stroke="#999" stroke-width="1.1" />
<line x1="373.90" y1="150.33" x2="374.80" y2="150.33" stroke="#999" stroke-width="0.5" />
<line x1="372.40" y1="149.33" x2="372.40" y2="151.33" stroke="#999" stroke-width="1.1" />
<line x1="373.90" y1="141.06" x2="374.80" y2="141.06" stroke="#999" stroke-width="0.5" />
<line x1="372.40" y1="140.06" x2="372.40" y2="142.06" stroke="#999" stroke-width="1.1" />
<line x1="373.90" y1="131.79" x2="374.80" y2="131.79" stroke="#999" stroke-width="0.5" />
<line x1="372.40" y1="130.79" x2="372.40" y2="132.79" stroke="#999" stroke-width="1.1" />
<line x1="373.90" y1="122.52" x2="374.80" y2="122.52" stroke="#999" stroke-width="0.5" />
<line x1="372.40" y1="121.52" x2="372.40" y2="123.52" stroke="#999" stroke-width="1.1" />
<line x1="373.90" y1="113.25" x2="374.80" y2="113.25" stroke="#999" stroke-width="0.5" />
<line x1="372.40" y1="112.25" x2="372.40" y2="114.25" stroke="#999" stroke-width="1.1" />
<line x1="373.70" y1="163.50" x2="375.70" y2="161.90" stroke="#9a9a9a" stroke-width="0.9" />
<line x1="386.30" y1="163.50" x2="388.30" y2="161.90" stroke="#9a9a9a" stroke-width="0.9" />
<line x1="398.90" y1="163.50" x2="400.90" y2="161.90" stroke="#9a9a9a" stroke-width="0.9" />
<line x1="411.50" y1="163.50" x2="413.50" y2="161.90" stroke="#9a9a9a" stroke-width="0.9" />
<line x1="424.10" y1="163.50" x2="426.10" y2="161.90" stroke="#9a9a9a" stroke-width="0.9" />
<path d="M375.30,151.00 C375.38,152.33 375.48,158.47 375.80,159.00 C376.12,159.53 376.82,156.20 377.20,154.20 C377.58,152.20 377.80,149.42 378.10,147.00 C378.40,144.58 378.65,142.52 379.00,139.70 C379.35,136.88 379.90,132.30 380.20,130.10 C380.50,127.90 380.60,127.40 380.80,126.50 C381.00,125.60 381.20,124.53 381.40,124.70 C381.60,124.87 381.78,126.40 382.00,127.50 C382.22,128.60 382.43,129.80 382.70,131.30 C382.97,132.80 383.30,134.70 383.60,136.50 C383.90,138.30 384.20,140.35 384.50,142.10 C384.80,143.85 385.10,145.38 385.40,147.00 C385.70,148.62 386.00,150.43 386.30,151.80 C386.60,153.17 386.90,154.20 387.20,155.20 C387.50,156.20 387.65,157.17 388.10,157.80 C388.55,158.43 383.72,158.77 389.90,159.00 C396.08,159.23 419.32,159.17 425.20,159.20" fill="none" stroke="#a8a8a8" stroke-width="1.2" stroke-linejoin="round"/>
<path d="M375.10,150.60 C375.22,152.00 375.45,158.37 375.80,159.00 C376.15,159.63 376.82,156.37 377.20,154.40 C377.58,152.43 377.80,149.60 378.10,147.20 C378.40,144.80 378.65,142.80 379.00,140.00 C379.35,137.20 379.90,132.60 380.20,130.40 C380.50,128.20 380.60,127.70 380.80,126.80 C381.00,125.90 381.20,124.83 381.40,125.00 C381.60,125.17 381.78,126.70 382.00,127.80 C382.22,128.90 382.43,130.10 382.70,131.60 C382.97,133.10 383.30,135.02 383.60,136.80 C383.90,138.58 384.20,140.57 384.50,142.30 C384.80,144.03 385.10,145.58 385.40,147.20 C385.70,148.82 386.00,150.63 386.30,152.00 C386.60,153.37 386.90,154.40 387.20,155.40 C387.50,156.40 387.65,157.40 388.10,158.00 C388.55,158.60 387.92,158.87 389.90,159.00 C391.88,159.13 396.65,158.78 400.00,158.80 C403.35,158.82 405.80,159.03 410.00,159.10 C414.20,159.17 422.67,159.18 425.20,159.20" fill="none" stroke="#333" stroke-width="0.8" stroke-linejoin="round"/>
<text x="390.70" y="173.80" font-size="7" font-family='"Liberation Sans", sans-serif' fill="#000" stroke="#000" stroke-width="0.24">CD40</text>
<text x="0" y="0" transform="translate(365.60,137.20) rotate(-90)" font-size="7" font-family='"Liberation Sans", sans-serif' text-anchor="middle" fill="#000" stroke="#000" stroke-width="0.24">Counts</text>
<text x="0" y="0" transform="translate(369.80,135.50) rotate(-90)" font-size="2.8" font-family='"Liberation Sans", sans-serif' text-anchor="middle" fill="#999" stroke="#999" stroke-width="0.2">Counts</text>
<path d="M460.60,113.10 H509.60 V160.00" fill="none" stroke="#c4c4c4" stroke-width="1.3"/>
<line x1="460.60" y1="113.10" x2="460.60" y2="160.00" stroke="#7a7a7a" stroke-width="0.7" />
<line x1="460.60" y1="160.00" x2="509.60" y2="160.00" stroke="#8a8a8a" stroke-width="0.7" />
<line x1="459.70" y1="160.00" x2="460.60" y2="160.00" stroke="#999" stroke-width="0.5" />
<line x1="458.20" y1="159.00" x2="458.20" y2="161.00" stroke="#999" stroke-width="1.1" />
<line x1="459.70" y1="150.98" x2="460.60" y2="150.98" stroke="#999" stroke-width="0.5" />
<line x1="458.20" y1="149.98" x2="458.20" y2="151.98" stroke="#999" stroke-width="1.1" />
<line x1="459.70" y1="141.96" x2="460.60" y2="141.96" stroke="#999" stroke-width="0.5" />
<line x1="458.20" y1="140.96" x2="458.20" y2="142.96" stroke="#999" stroke-width="1.1" />
<line x1="459.70" y1="132.94" x2="460.60" y2="132.94" stroke="#999" stroke-width="0.5" />
<line x1="458.20" y1="131.94" x2="458.20" y2="133.94" stroke="#999" stroke-width="1.1" />
<line x1="459.70" y1="123.92" x2="460.60" y2="123.92" stroke="#999" stroke-width="0.5" />
<line x1="458.20" y1="122.92" x2="458.20" y2="124.92" stroke="#999" stroke-width="1.1" />
<line x1="459.70" y1="114.90" x2="460.60" y2="114.90" stroke="#999" stroke-width="0.5" />
<line x1="458.20" y1="113.90" x2="458.20" y2="115.90" stroke="#999" stroke-width="1.1" />
<line x1="459.50" y1="163.90" x2="461.50" y2="162.30" stroke="#9a9a9a" stroke-width="0.9" />
<line x1="471.75" y1="163.90" x2="473.75" y2="162.30" stroke="#9a9a9a" stroke-width="0.9" />
<line x1="484.00" y1="163.90" x2="486.00" y2="162.30" stroke="#9a9a9a" stroke-width="0.9" />
<line x1="496.25" y1="163.90" x2="498.25" y2="162.30" stroke="#9a9a9a" stroke-width="0.9" />
<line x1="508.50" y1="163.90" x2="510.50" y2="162.30" stroke="#9a9a9a" stroke-width="0.9" />
<path d="M462.60,156.60 C462.87,154.97 463.70,150.03 464.20,146.80 C464.70,143.57 465.10,140.10 465.60,137.20 C466.10,134.30 466.63,129.60 467.20,129.40 C467.77,129.20 468.50,133.52 469.00,136.00 C469.50,138.48 469.85,141.70 470.20,144.30 C470.55,146.90 470.65,149.68 471.10,151.60 C471.55,153.52 472.20,154.60 472.90,155.80 C473.60,157.00 474.90,158.30 475.30,158.80" fill="none" stroke="#c4c4c4" stroke-width="0.8" stroke-linejoin="round"/>
<path d="M460.70,153.80 C460.82,154.70 461.18,158.53 461.40,159.20 C461.62,159.87 461.80,158.30 462.00,157.80 C462.20,157.30 462.37,157.25 462.60,156.20 C462.83,155.15 463.13,153.10 463.40,151.50 C463.67,149.90 463.95,148.27 464.20,146.60 C464.45,144.93 464.67,143.12 464.90,141.50 C465.13,139.88 465.35,138.40 465.60,136.90 C465.85,135.40 466.13,133.80 466.40,132.50 C466.67,131.20 466.92,129.18 467.20,129.10 C467.48,129.02 467.80,130.90 468.10,132.00 C468.40,133.10 468.75,134.45 469.00,135.70 C469.25,136.95 469.40,138.10 469.60,139.50 C469.80,140.90 470.02,142.60 470.20,144.10 C470.38,145.60 470.55,147.28 470.70,148.50 C470.85,149.72 470.88,150.52 471.10,151.40 C471.32,152.28 471.70,153.10 472.00,153.80 C472.30,154.50 472.57,155.03 472.90,155.60 C473.23,156.17 473.60,156.70 474.00,157.20 C474.40,157.70 474.72,158.30 475.30,158.60 C475.88,158.90 476.70,158.90 477.50,159.00 C478.30,159.10 477.67,159.08 480.10,159.20 C482.53,159.32 487.18,159.62 492.10,159.70 C497.02,159.78 506.68,159.70 509.60,159.70" fill="none" stroke="#1a1a1a" stroke-width="1.45" stroke-linejoin="round"/>
<text x="476.70" y="174.40" font-size="7" font-family='"Liberation Sans", sans-serif' fill="#000" stroke="#000" stroke-width="0.24">CD40</text>
<text x="0" y="0" transform="translate(455.60,136.55) rotate(-90)" font-size="2.8" font-family='"Liberation Sans", sans-serif' text-anchor="middle" fill="#999" stroke="#999" stroke-width="0.2">Counts</text>
<text x="0.60" y="197.00" font-size="11.5" font-family='"Liberation Sans", sans-serif' font-weight="bold" text-anchor="start" fill="#000" stroke="#000" stroke-width="0.23" >B</text>
<text x="81.20" y="210.40" font-size="6.0" font-family='"Liberation Serif", serif' font-weight="bold" text-anchor="start" fill="#000" stroke="#000" stroke-width="0.12" >CD4</text>
<line x1="38.40" y1="219.20" x2="166.40" y2="219.20" stroke="#b0b0b0" stroke-width="0.7" />
<line x1="166.40" y1="219.20" x2="166.40" y2="290.60" stroke="#b0b0b0" stroke-width="0.7" />
<line x1="38.40" y1="218.90" x2="38.40" y2="290.90" stroke="#333" stroke-width="0.8" />
<line x1="37.20" y1="290.60" x2="166.40" y2="290.60" stroke="#333" stroke-width="0.8" />
<line x1="36.60" y1="219.20" x2="38.40" y2="219.20" stroke="#333" stroke-width="0.6" />
<line x1="36.60" y1="231.10" x2="38.40" y2="231.10" stroke="#333" stroke-width="0.6" />
<line x1="36.60" y1="243.00" x2="38.40" y2="243.00" stroke="#333" stroke-width="0.6" />
<line x1="36.60" y1="254.90" x2="38.40" y2="254.90" stroke="#333" stroke-width="0.6" />
<line x1="36.60" y1="266.80" x2="38.40" y2="266.80" stroke="#333" stroke-width="0.6" />
<line x1="36.60" y1="278.70" x2="38.40" y2="278.70" stroke="#333" stroke-width="0.6" />
<line x1="36.60" y1="290.60" x2="38.40" y2="290.60" stroke="#333" stroke-width="0.6" />
<line x1="38.40" y1="290.60" x2="38.40" y2="292.20" stroke="#333" stroke-width="0.6" />
<text x="38.40" y="300.60" font-size="4.9" font-family='"Liberation Serif", serif' font-weight="normal" text-anchor="middle" fill="#333" stroke="#333" stroke-width="0.17" >0</text>
<line x1="56.69" y1="290.60" x2="56.69" y2="292.20" stroke="#333" stroke-width="0.6" />
<text x="56.69" y="300.60" font-size="4.9" font-family='"Liberation Serif", serif' font-weight="normal" text-anchor="middle" fill="#333" stroke="#333" stroke-width="0.17" >2000</text>
<line x1="74.97" y1="290.60" x2="74.97" y2="292.20" stroke="#333" stroke-width="0.6" />
<text x="74.97" y="300.60" font-size="4.9" font-family='"Liberation Serif", serif' font-weight="normal" text-anchor="middle" fill="#333" stroke="#333" stroke-width="0.17" >4000</text>
<line x1="93.26" y1="290.60" x2="93.26" y2="292.20" stroke="#333" stroke-width="0.6" />
<text x="93.26" y="300.60" font-size="4.9" font-family='"Liberation Serif", serif' font-weight="normal" text-anchor="middle" fill="#333" stroke="#333" stroke-width="0.17" >6000</text>
<line x1="111.54" y1="290.60" x2="111.54" y2="292.20" stroke="#333" stroke-width="0.6" />
<text x="111.54" y="300.60" font-size="4.9" font-family='"Liberation Serif", serif' font-weight="normal" text-anchor="middle" fill="#333" stroke="#333" stroke-width="0.17" >8000</text>
<line x1="129.83" y1="290.60" x2="129.83" y2="292.20" stroke="#333" stroke-width="0.6" />
<text x="129.83" y="300.60" font-size="4.9" font-family='"Liberation Serif", serif' font-weight="normal" text-anchor="middle" fill="#333" stroke="#333" stroke-width="0.17" >10000</text>
<line x1="148.11" y1="290.60" x2="148.11" y2="292.20" stroke="#333" stroke-width="0.6" />
<text x="148.11" y="300.60" font-size="4.9" font-family='"Liberation Serif", serif' font-weight="normal" text-anchor="middle" fill="#333" stroke="#333" stroke-width="0.17" >12000</text>
<line x1="166.40" y1="290.60" x2="166.40" y2="292.20" stroke="#333" stroke-width="0.6" />
<text x="166.40" y="300.60" font-size="4.9" font-family='"Liberation Serif", serif' font-weight="normal" text-anchor="middle" fill="#333" stroke="#333" stroke-width="0.17" >14000</text>
<text x="33.60" y="227.05" font-size="4.75" font-family='"Liberation Serif", serif' font-weight="normal" text-anchor="end" fill="#222" stroke="#222" stroke-width="0.17" >T only</text>
<rect x="38.30" y="220.30" width="1.30" height="4.80" fill="#000" stroke="none" stroke-width="0"/>
<text x="40.30" y="224.15" font-size="4.0" font-family='"Liberation Sans", sans-serif' font-weight="normal" text-anchor="start" fill="#333" stroke="#333" stroke-width="0.14" >&lt;100 CPM</text>
<text x="33.60" y="238.95" font-size="4.75" font-family='"Liberation Serif", serif' font-weight="normal" text-anchor="end" fill="#222" stroke="#222" stroke-width="0.17" >T + B6 spleen</text>
<rect x="38.40" y="234.05" width="103.50" height="6.00" fill="#000" stroke="none" stroke-width="0"/>
<line x1="141.90" y1="237.05" x2="156.80" y2="237.05" stroke="#444" stroke-width="0.6" />
<line x1="156.80" y1="235.75" x2="156.80" y2="238.35" stroke="#444" stroke-width="0.6" />
<text x="33.60" y="250.85" font-size="4.75" font-family='"Liberation Serif", serif' font-weight="normal" text-anchor="end" fill="#222" stroke="#222" stroke-width="0.17" >MAPC</text>
<rect x="38.30" y="244.90" width="1.30" height="4.80" fill="#000" stroke="none" stroke-width="0"/>
<text x="40.30" y="248.75" font-size="4.0" font-family='"Liberation Sans", sans-serif' font-weight="normal" text-anchor="start" fill="#333" stroke="#333" stroke-width="0.14" >&lt;100 CPM</text>
<text x="33.60" y="262.75" font-size="4.75" font-family='"Liberation Serif", serif' font-weight="normal" text-anchor="end" fill="#222" stroke="#222" stroke-width="0.17" >T + MAPC</text>
<rect x="38.30" y="258.30" width="1.30" height="4.80" fill="#000" stroke="none" stroke-width="0"/>
<text x="40.30" y="262.15" font-size="4.0" font-family='"Liberation Sans", sans-serif' font-weight="normal" text-anchor="start" fill="#333" stroke="#333" stroke-width="0.14" >&lt;100 CPM</text>
<text x="33.60" y="274.65" font-size="4.75" font-family='"Liberation Serif", serif' font-weight="normal" text-anchor="end" fill="#222" stroke="#222" stroke-width="0.17" >MAPC IFNg</text>
<rect x="38.30" y="269.90" width="1.30" height="4.80" fill="#888" stroke="none" stroke-width="0"/>
<text x="40.30" y="273.75" font-size="4.0" font-family='"Liberation Sans", sans-serif' font-weight="normal" text-anchor="start" fill="#333" stroke="#333" stroke-width="0.14" >&lt;100 CPM</text>
<text x="33.60" y="286.55" font-size="4.75" font-family='"Liberation Serif", serif' font-weight="normal" text-anchor="end" fill="#222" stroke="#222" stroke-width="0.17" >T + MAPC IFNg</text>
<rect x="38.30" y="283.30" width="1.30" height="4.80" fill="#000" stroke="none" stroke-width="0"/>
<text x="40.30" y="287.15" font-size="4.0" font-family='"Liberation Sans", sans-serif' font-weight="normal" text-anchor="start" fill="#333" stroke="#333" stroke-width="0.14" >&lt;100 CPM</text>
<text x="84.90" y="312.30" font-size="4.4" font-family='"Liberation Serif", serif' font-weight="bold" fill="#111" stroke="#111" stroke-width="0.08"><tspan font-size="2.8" dy="-2.5">3</tspan><tspan dx="0.3" dy="2.5">H UPTAKE (CPM)</tspan></text>
<text x="182.70" y="196.40" font-size="11.5" font-family='"Liberation Sans", sans-serif' font-weight="bold" text-anchor="start" fill="#000" stroke="#000" stroke-width="0.23" >C</text>
<text x="250.20" y="207.70" font-size="6.0" font-family='"Liberation Serif", serif' font-weight="bold" text-anchor="start" fill="#000" stroke="#000" stroke-width="0.12" >CD4 + CD8</text>
<line x1="216.60" y1="216.90" x2="344.30" y2="216.90" stroke="#b0b0b0" stroke-width="0.7" />
<line x1="344.30" y1="216.90" x2="344.30" y2="290.20" stroke="#b0b0b0" stroke-width="0.7" />
<line x1="216.60" y1="216.60" x2="216.60" y2="290.50" stroke="#333" stroke-width="0.8" />
<line x1="215.40" y1="290.20" x2="344.30" y2="290.20" stroke="#333" stroke-width="0.8" />
<line x1="214.80" y1="216.90" x2="216.60" y2="216.90" stroke="#333" stroke-width="0.6" />
<line x1="214.80" y1="229.12" x2="216.60" y2="229.12" stroke="#333" stroke-width="0.6" />
<line x1="214.80" y1="241.33" x2="216.60" y2="241.33" stroke="#333" stroke-width="0.6" />
<line x1="214.80" y1="253.55" x2="216.60" y2="253.55" stroke="#333" stroke-width="0.6" />
<line x1="214.80" y1="265.77" x2="216.60" y2="265.77" stroke="#333" stroke-width="0.6" />
<line x1="214.80" y1="277.98" x2="216.60" y2="277.98" stroke="#333" stroke-width="0.6" />
<line x1="214.80" y1="290.20" x2="216.60" y2="290.20" stroke="#333" stroke-width="0.6" />
<line x1="216.60" y1="290.20" x2="216.60" y2="291.80" stroke="#333" stroke-width="0.6" />
<text x="216.60" y="300.20" font-size="4.9" font-family='"Liberation Serif", serif' font-weight="normal" text-anchor="middle" fill="#333" stroke="#333" stroke-width="0.17" >0</text>
<line x1="237.88" y1="290.20" x2="237.88" y2="291.80" stroke="#333" stroke-width="0.6" />
<text x="237.88" y="300.20" font-size="4.9" font-family='"Liberation Serif", serif' font-weight="normal" text-anchor="middle" fill="#333" stroke="#333" stroke-width="0.17" >2000</text>
<line x1="259.17" y1="290.20" x2="259.17" y2="291.80" stroke="#333" stroke-width="0.6" />
<text x="259.17" y="300.20" font-size="4.9" font-family='"Liberation Serif", serif' font-weight="normal" text-anchor="middle" fill="#333" stroke="#333" stroke-width="0.17" >4000</text>
<line x1="280.45" y1="290.20" x2="280.45" y2="291.80" stroke="#333" stroke-width="0.6" />
<text x="280.45" y="300.20" font-size="4.9" font-family='"Liberation Serif", serif' font-weight="normal" text-anchor="middle" fill="#333" stroke="#333" stroke-width="0.17" >6000</text>
<line x1="301.73" y1="290.20" x2="301.73" y2="291.80" stroke="#333" stroke-width="0.6" />
<text x="301.73" y="300.20" font-size="4.9" font-family='"Liberation Serif", serif' font-weight="normal" text-anchor="middle" fill="#333" stroke="#333" stroke-width="0.17" >8000</text>
<line x1="323.02" y1="290.20" x2="323.02" y2="291.80" stroke="#333" stroke-width="0.6" />
<text x="323.02" y="300.20" font-size="4.9" font-family='"Liberation Serif", serif' font-weight="normal" text-anchor="middle" fill="#333" stroke="#333" stroke-width="0.17" >10000</text>
<line x1="344.30" y1="290.20" x2="344.30" y2="291.80" stroke="#333" stroke-width="0.6" />
<text x="344.30" y="300.20" font-size="4.9" font-family='"Liberation Serif", serif' font-weight="normal" text-anchor="middle" fill="#333" stroke="#333" stroke-width="0.17" >12000</text>
<text x="212.80" y="224.91" font-size="4.75" font-family='"Liberation Serif", serif' font-weight="normal" text-anchor="end" fill="#222" stroke="#222" stroke-width="0.17" >T only</text>
<rect x="216.50" y="220.10" width="1.30" height="4.80" fill="#000" stroke="none" stroke-width="0"/>
<text x="218.50" y="223.95" font-size="4.0" font-family='"Liberation Sans", sans-serif' font-weight="normal" text-anchor="start" fill="#333" stroke="#333" stroke-width="0.14" >&lt;100 CPM</text>
<text x="212.80" y="237.12" font-size="4.75" font-family='"Liberation Serif", serif' font-weight="normal" text-anchor="end" fill="#222" stroke="#222" stroke-width="0.17" >T + B6 spleen</text>
<rect x="216.60" y="232.22" width="86.30" height="6.00" fill="#000" stroke="none" stroke-width="0"/>
<line x1="302.90" y1="235.22" x2="331.32" y2="235.22" stroke="#444" stroke-width="0.6" />
<line x1="331.32" y1="233.92" x2="331.32" y2="236.53" stroke="#444" stroke-width="0.6" />
<text x="212.80" y="249.34" font-size="4.75" font-family='"Liberation Serif", serif' font-weight="normal" text-anchor="end" fill="#222" stroke="#222" stroke-width="0.17" >MAPC</text>
<rect x="216.50" y="244.30" width="1.30" height="4.80" fill="#000" stroke="none" stroke-width="0"/>
<text x="218.50" y="248.15" font-size="4.0" font-family='"Liberation Sans", sans-serif' font-weight="normal" text-anchor="start" fill="#333" stroke="#333" stroke-width="0.14" >&lt;100 CPM</text>
<text x="212.80" y="261.56" font-size="4.75" font-family='"Liberation Serif", serif' font-weight="normal" text-anchor="end" fill="#222" stroke="#222" stroke-width="0.17" >T + MAPC</text>
<rect x="216.50" y="257.60" width="1.30" height="4.80" fill="#000" stroke="none" stroke-width="0"/>
<text x="218.50" y="261.45" font-size="4.0" font-family='"Liberation Sans", sans-serif' font-weight="normal" text-anchor="start" fill="#333" stroke="#333" stroke-width="0.14" >&lt;100 CPM</text>
<text x="212.80" y="273.77" font-size="4.75" font-family='"Liberation Serif", serif' font-weight="normal" text-anchor="end" fill="#222" stroke="#222" stroke-width="0.17" >MAPC IFNg</text>
<rect x="216.50" y="269.30" width="1.30" height="4.80" fill="#888" stroke="none" stroke-width="0"/>
<text x="218.50" y="273.15" font-size="4.0" font-family='"Liberation Sans", sans-serif' font-weight="normal" text-anchor="start" fill="#333" stroke="#333" stroke-width="0.14" >&lt;100 CPM</text>
<text x="212.80" y="285.99" font-size="4.75" font-family='"Liberation Serif", serif' font-weight="normal" text-anchor="end" fill="#222" stroke="#222" stroke-width="0.17" >T + MAPC IFNg</text>
<rect x="216.50" y="282.30" width="1.30" height="4.80" fill="#000" stroke="none" stroke-width="0"/>
<text x="218.50" y="286.15" font-size="4.0" font-family='"Liberation Sans", sans-serif' font-weight="normal" text-anchor="start" fill="#333" stroke="#333" stroke-width="0.14" >&lt;100 CPM</text>
<text x="263.50" y="313.40" font-size="4.4" font-family='"Liberation Serif", serif' font-weight="bold" fill="#111" stroke="#111" stroke-width="0.08"><tspan font-size="2.8" dy="-2.5">3</tspan><tspan dx="0.3" dy="2.5">H UPTAKE (CPM)</tspan></text>
<text x="356.30" y="195.10" font-size="11.5" font-family='"Liberation Sans", sans-serif' font-weight="bold" text-anchor="start" fill="#000" stroke="#000" stroke-width="0.23" >D</text>
<line x1="376.50" y1="203.40" x2="376.50" y2="290.40" stroke="#444" stroke-width="0.75" />
<line x1="376.50" y1="290.40" x2="518.50" y2="290.40" stroke="#444" stroke-width="0.75" />
<line x1="374.70" y1="290.40" x2="376.50" y2="290.40" stroke="#444" stroke-width="0.6" />
<text x="370.50" y="292.10" font-size="5.0" font-family='"Liberation Serif", serif' font-weight="normal" text-anchor="end" fill="#333" stroke="#333" stroke-width="0.18" >0</text>
<line x1="374.70" y1="273.00" x2="376.50" y2="273.00" stroke="#444" stroke-width="0.6" />
<text x="370.50" y="274.70" font-size="5.0" font-family='"Liberation Serif", serif' font-weight="normal" text-anchor="end" fill="#333" stroke="#333" stroke-width="0.18" >2000</text>
<line x1="374.70" y1="255.60" x2="376.50" y2="255.60" stroke="#444" stroke-width="0.6" />
<text x="370.50" y="257.30" font-size="5.0" font-family='"Liberation Serif", serif' font-weight="normal" text-anchor="end" fill="#333" stroke="#333" stroke-width="0.18" >4000</text>
<line x1="374.70" y1="238.20" x2="376.50" y2="238.20" stroke="#444" stroke-width="0.6" />
<text x="370.50" y="239.90" font-size="5.0" font-family='"Liberation Serif", serif' font-weight="normal" text-anchor="end" fill="#333" stroke="#333" stroke-width="0.18" >6000</text>
<line x1="374.70" y1="220.80" x2="376.50" y2="220.80" stroke="#444" stroke-width="0.6" />
<text x="370.50" y="222.50" font-size="5.0" font-family='"Liberation Serif", serif' font-weight="normal" text-anchor="end" fill="#333" stroke="#333" stroke-width="0.18" >8000</text>
<line x1="374.70" y1="203.40" x2="376.50" y2="203.40" stroke="#444" stroke-width="0.6" />
<text x="370.50" y="205.10" font-size="5.0" font-family='"Liberation Serif", serif' font-weight="normal" text-anchor="end" fill="#333" stroke="#333" stroke-width="0.18" >10000</text>
<line x1="376.60" y1="290.40" x2="376.60" y2="292.20" stroke="#444" stroke-width="0.6" />
<line x1="405.00" y1="290.40" x2="405.00" y2="292.20" stroke="#444" stroke-width="0.6" />
<line x1="433.40" y1="290.40" x2="433.40" y2="292.20" stroke="#444" stroke-width="0.6" />
<line x1="461.80" y1="290.40" x2="461.80" y2="292.20" stroke="#444" stroke-width="0.6" />
<line x1="490.20" y1="290.40" x2="490.20" y2="292.20" stroke="#444" stroke-width="0.6" />
<line x1="518.60" y1="290.40" x2="518.60" y2="292.20" stroke="#444" stroke-width="0.6" />
<text x="390.60" y="301.90" font-size="5.4" font-family='"Liberation Serif", serif' font-weight="normal" text-anchor="middle" fill="#333" stroke="#333" stroke-width="0.19" >81:1</text>
<text x="418.80" y="301.90" font-size="5.4" font-family='"Liberation Serif", serif' font-weight="normal" text-anchor="middle" fill="#333" stroke="#333" stroke-width="0.19" >27:1</text>
<text x="447.10" y="301.90" font-size="5.4" font-family='"Liberation Serif", serif' font-weight="normal" text-anchor="middle" fill="#333" stroke="#333" stroke-width="0.19" >9:1</text>
<text x="475.90" y="301.90" font-size="5.4" font-family='"Liberation Serif", serif' font-weight="normal" text-anchor="middle" fill="#333" stroke="#333" stroke-width="0.19" >3:1</text>
<text x="504.20" y="301.90" font-size="5.4" font-family='"Liberation Serif", serif' font-weight="normal" text-anchor="middle" fill="#333" stroke="#333" stroke-width="0.19" >1:1</text>
<polyline points="390.80,287.62 419.00,288.22 447.30,289.70 476.10,289.96 504.40,290.23" fill="none" stroke="#111" stroke-width="0.8"/>
<polyline points="390.80,288.66 419.00,289.53 447.30,286.92 476.10,288.83 504.40,290.14" fill="none" stroke="#111" stroke-width="0.8"/>
<polyline points="390.80,284.40 419.00,283.96 447.30,270.39 476.10,269.52 504.40,229.50" fill="none" stroke="#111" stroke-width="0.8"/>
<line x1="390.80" y1="286.14" x2="390.80" y2="282.66" stroke="#222" stroke-width="0.55" />
<line x1="389.30" y1="282.66" x2="392.30" y2="282.66" stroke="#222" stroke-width="0.55" />
<line x1="389.30" y1="286.14" x2="392.30" y2="286.14" stroke="#222" stroke-width="0.55" />
<circle cx="390.80" cy="284.40" r="2.0" fill="#000"/>
<line x1="419.00" y1="287.01" x2="419.00" y2="280.92" stroke="#222" stroke-width="0.55" />
<line x1="417.50" y1="280.92" x2="420.50" y2="280.92" stroke="#222" stroke-width="0.55" />
<line x1="417.50" y1="287.01" x2="420.50" y2="287.01" stroke="#222" stroke-width="0.55" />
<circle cx="419.00" cy="283.96" r="2.0" fill="#000"/>
<line x1="447.30" y1="276.04" x2="447.30" y2="264.74" stroke="#222" stroke-width="0.55" />
<line x1="445.80" y1="264.74" x2="448.80" y2="264.74" stroke="#222" stroke-width="0.55" />
<line x1="445.80" y1="276.04" x2="448.80" y2="276.04" stroke="#222" stroke-width="0.55" />
<circle cx="447.30" cy="270.39" r="2.0" fill="#000"/>
<line x1="476.10" y1="275.17" x2="476.10" y2="263.87" stroke="#222" stroke-width="0.55" />
<line x1="474.60" y1="263.87" x2="477.60" y2="263.87" stroke="#222" stroke-width="0.55" />
<line x1="474.60" y1="275.17" x2="477.60" y2="275.17" stroke="#222" stroke-width="0.55" />
<circle cx="476.10" cy="269.52" r="2.0" fill="#000"/>
<line x1="504.40" y1="236.02" x2="504.40" y2="222.97" stroke="#222" stroke-width="0.55" />
<line x1="502.90" y1="222.97" x2="505.90" y2="222.97" stroke="#222" stroke-width="0.55" />
<line x1="502.90" y1="236.02" x2="505.90" y2="236.02" stroke="#222" stroke-width="0.55" />
<circle cx="504.40" cy="229.50" r="2.0" fill="#000"/>
<line x1="390.80" y1="289.53" x2="390.80" y2="287.79" stroke="#222" stroke-width="0.55" />
<rect x="388.80" y="286.66" width="4.00" height="4.00" fill="#000" stroke="none" stroke-width="0"/>
<line x1="419.00" y1="290.23" x2="419.00" y2="288.83" stroke="#222" stroke-width="0.55" />
<rect x="417.00" y="287.53" width="4.00" height="4.00" fill="#000" stroke="none" stroke-width="0"/>
<line x1="447.30" y1="287.96" x2="447.30" y2="285.88" stroke="#222" stroke-width="0.55" />
<rect x="445.30" y="284.92" width="4.00" height="4.00" fill="#000" stroke="none" stroke-width="0"/>
<line x1="476.10" y1="289.53" x2="476.10" y2="288.14" stroke="#222" stroke-width="0.55" />
<rect x="474.10" y="286.83" width="4.00" height="4.00" fill="#000" stroke="none" stroke-width="0"/>
<line x1="504.40" y1="290.40" x2="504.40" y2="289.88" stroke="#222" stroke-width="0.55" />
<rect x="502.40" y="288.14" width="4.00" height="4.00" fill="#000" stroke="none" stroke-width="0"/>
<path d="M389.00,288.92 L392.60,288.92 L390.80,285.92 Z" fill="#000"/>
<path d="M417.20,289.52 L420.80,289.52 L419.00,286.52 Z" fill="#000"/>
<path d="M445.50,291.00 L449.10,291.00 L447.30,288.00 Z" fill="#000"/>
<path d="M474.30,291.26 L477.90,291.26 L476.10,288.26 Z" fill="#000"/>
<path d="M502.60,291.53 L506.20,291.53 L504.40,288.53 Z" fill="#000"/>
<text x="446.40" y="263.30" font-size="5" font-family='"Liberation Serif", serif' font-weight="normal" text-anchor="middle" fill="#000" stroke="#000" stroke-width="0.18" >*</text>
<text x="475.20" y="263.30" font-size="5" font-family='"Liberation Serif", serif' font-weight="normal" text-anchor="middle" fill="#000" stroke="#000" stroke-width="0.18" >*</text>
<text x="503.40" y="218.40" font-size="5" font-family='"Liberation Serif", serif' font-weight="normal" text-anchor="middle" fill="#000" stroke="#000" stroke-width="0.18" >*</text>
<line x1="391.20" y1="214.40" x2="402.40" y2="214.40" stroke="#111" stroke-width="0.7" />
<circle cx="397.1" cy="214.4" r="1.6" fill="#000"/>
<text x="405.00" y="216.30" font-size="5.3" font-family='"Liberation Serif", serif' font-weight="normal" text-anchor="start" fill="#222" stroke="#222" stroke-width="0.19" >B6 Spleen</text>
<line x1="391.20" y1="223.10" x2="402.40" y2="223.10" stroke="#111" stroke-width="0.7" />
<rect x="395.50" y="221.50" width="3.20" height="3.20" fill="#000" stroke="none" stroke-width="0"/>
<text x="405.00" y="225.00" font-size="5.3" font-family='"Liberation Serif", serif' font-weight="normal" text-anchor="start" fill="#222" stroke="#222" stroke-width="0.19" >MAPC</text>
<line x1="391.20" y1="230.90" x2="402.40" y2="230.90" stroke="#111" stroke-width="0.7" />
<path d="M395.3,232.20000000000002 L398.9,232.20000000000002 L397.1,229.20000000000002 Z" fill="#000"/>
<text x="405.00" y="232.80" font-size="5.3" font-family='"Liberation Serif", serif' font-weight="normal" text-anchor="start" fill="#222" stroke="#222" stroke-width="0.19" >MAPC DL</text>
<text x="412.00" y="311.20" font-size="5.3" font-family='"Liberation Serif", serif' font-weight="bold" text-anchor="start" fill="#111" stroke="#111" stroke-width="0.11" >Responder :Stimulator Ratio</text>
<text x="1.00" y="336.00" font-size="11.5" font-family='"Liberation Sans", sans-serif' font-weight="bold" text-anchor="start" fill="#000" stroke="#000" stroke-width="0.23" >E</text>
<line x1="23.80" y1="348.60" x2="23.80" y2="452.50" stroke="#555" stroke-width="0.8" />
<line x1="23.80" y1="452.50" x2="149.80" y2="452.50" stroke="#333" stroke-width="0.8" />
<line x1="21.80" y1="452.50" x2="23.80" y2="452.50" stroke="#444" stroke-width="0.6" />
<text x="17.40" y="454.90" font-size="6.4" font-family='"Liberation Serif", serif' font-weight="normal" text-anchor="end" fill="#222" stroke="#222" stroke-width="0.22" >0</text>
<line x1="21.80" y1="431.72" x2="23.80" y2="431.72" stroke="#444" stroke-width="0.6" />
<text x="17.40" y="434.12" font-size="6.4" font-family='"Liberation Serif", serif' font-weight="normal" text-anchor="end" fill="#222" stroke="#222" stroke-width="0.22" >2000</text>
<line x1="21.80" y1="410.94" x2="23.80" y2="410.94" stroke="#444" stroke-width="0.6" />
<text x="17.40" y="413.34" font-size="6.4" font-family='"Liberation Serif", serif' font-weight="normal" text-anchor="end" fill="#222" stroke="#222" stroke-width="0.22" >4000</text>
<line x1="21.80" y1="390.16" x2="23.80" y2="390.16" stroke="#444" stroke-width="0.6" />
<text x="17.40" y="392.56" font-size="6.4" font-family='"Liberation Serif", serif' font-weight="normal" text-anchor="end" fill="#222" stroke="#222" stroke-width="0.22" >6000</text>
<line x1="21.80" y1="369.38" x2="23.80" y2="369.38" stroke="#444" stroke-width="0.6" />
<text x="17.40" y="371.78" font-size="6.4" font-family='"Liberation Serif", serif' font-weight="normal" text-anchor="end" fill="#222" stroke="#222" stroke-width="0.22" >8000</text>
<line x1="21.80" y1="348.60" x2="23.80" y2="348.60" stroke="#444" stroke-width="0.6" />
<text x="17.40" y="351.00" font-size="6.4" font-family='"Liberation Serif", serif' font-weight="normal" text-anchor="end" fill="#222" stroke="#222" stroke-width="0.22" >10000</text>
<line x1="23.80" y1="452.50" x2="23.80" y2="454.50" stroke="#333" stroke-width="0.6" />
<line x1="65.80" y1="452.50" x2="65.80" y2="454.50" stroke="#333" stroke-width="0.6" />
<line x1="107.80" y1="452.50" x2="107.80" y2="454.50" stroke="#333" stroke-width="0.6" />
<line x1="149.80" y1="452.50" x2="149.80" y2="454.50" stroke="#333" stroke-width="0.6" />
<line x1="35.70" y1="384.45" x2="35.70" y2="381.54" stroke="#222" stroke-width="0.6" />
<line x1="33.90" y1="381.54" x2="37.50" y2="381.54" stroke="#222" stroke-width="0.6" />
<rect x="31.10" y="384.45" width="9.25" height="68.05" fill="#000" stroke="#000" stroke-width="0.5"/>
<line x1="45.15" y1="450.11" x2="45.15" y2="449.69" stroke="#222" stroke-width="0.6" />
<line x1="43.35" y1="449.69" x2="46.95" y2="449.69" stroke="#222" stroke-width="0.6" />
<rect x="40.55" y="450.11" width="9.25" height="2.39" fill="#fff" stroke="#000" stroke-width="0.5"/>
<line x1="54.60" y1="451.25" x2="54.60" y2="450.84" stroke="#222" stroke-width="0.6" />
<line x1="52.80" y1="450.84" x2="56.40" y2="450.84" stroke="#222" stroke-width="0.6" />
<rect x="50.00" y="451.25" width="9.25" height="1.25" fill="#a8a8a8" stroke="#000" stroke-width="0.5"/>
<line x1="77.40" y1="387.56" x2="77.40" y2="364.19" stroke="#222" stroke-width="0.6" />
<line x1="75.60" y1="364.19" x2="79.20" y2="364.19" stroke="#222" stroke-width="0.6" />
<rect x="72.80" y="387.56" width="9.25" height="64.94" fill="#000" stroke="#000" stroke-width="0.5"/>
<line x1="86.85" y1="446.68" x2="86.85" y2="446.06" stroke="#222" stroke-width="0.6" />
<line x1="85.05" y1="446.06" x2="88.65" y2="446.06" stroke="#222" stroke-width="0.6" />
<rect x="82.25" y="446.68" width="9.25" height="5.82" fill="#fff" stroke="#000" stroke-width="0.5"/>
<line x1="96.30" y1="447.51" x2="96.30" y2="446.79" stroke="#222" stroke-width="0.6" />
<line x1="94.50" y1="446.79" x2="98.10" y2="446.79" stroke="#222" stroke-width="0.6" />
<rect x="91.70" y="447.51" width="9.25" height="4.99" fill="#a8a8a8" stroke="#000" stroke-width="0.5"/>
<line x1="119.10" y1="433.59" x2="119.10" y2="429.43" stroke="#222" stroke-width="0.6" />
<line x1="117.30" y1="429.43" x2="120.90" y2="429.43" stroke="#222" stroke-width="0.6" />
<rect x="114.50" y="433.59" width="9.25" height="18.91" fill="#000" stroke="#000" stroke-width="0.5"/>
<line x1="128.55" y1="447.51" x2="128.55" y2="446.89" stroke="#222" stroke-width="0.6" />
<line x1="126.75" y1="446.89" x2="130.35" y2="446.89" stroke="#222" stroke-width="0.6" />
<rect x="123.95" y="447.51" width="9.25" height="4.99" fill="#fff" stroke="#000" stroke-width="0.5"/>
<line x1="138.00" y1="448.76" x2="138.00" y2="448.14" stroke="#222" stroke-width="0.6" />
<line x1="136.20" y1="448.14" x2="139.80" y2="448.14" stroke="#222" stroke-width="0.6" />
<rect x="133.40" y="448.76" width="9.25" height="3.74" fill="#a8a8a8" stroke="#000" stroke-width="0.5"/>
<text x="44.40" y="465.50" font-size="7.2" font-family='"Liberation Serif", serif' font-weight="normal" text-anchor="middle" fill="#222" stroke="#222" stroke-width="0.25" >2</text>
<text x="86.70" y="465.50" font-size="7.2" font-family='"Liberation Serif", serif' font-weight="normal" text-anchor="middle" fill="#222" stroke="#222" stroke-width="0.25" >4</text>
<text x="128.70" y="465.50" font-size="7.2" font-family='"Liberation Serif", serif' font-weight="normal" text-anchor="middle" fill="#222" stroke="#222" stroke-width="0.25" >6</text>
<text x="37.40" y="477.30" font-size="6.45" font-family='"Liberation Serif", serif' font-weight="bold" text-anchor="start" fill="#111" stroke="#111" stroke-width="0.13" >DAY OF SECONDARY CULTURE</text>
<rect x="105.3" y="355.0" width="4.2" height="4.2" fill="#000" stroke="#000" stroke-width="0.6"/>
<text x="111.20" y="359.20" font-size="6.2" font-family='"Liberation Serif", serif' font-weight="normal" text-anchor="start" fill="#222" stroke="#222" stroke-width="0.22" >B6 Spleen</text>
<rect x="105.3" y="364.2" width="4.2" height="4.2" fill="#fff" stroke="#000" stroke-width="0.6"/>
<text x="111.20" y="368.40" font-size="6.2" font-family='"Liberation Serif", serif' font-weight="normal" text-anchor="start" fill="#222" stroke="#222" stroke-width="0.22" >MAPC</text>
<rect x="105.3" y="374.2" width="4.2" height="4.2" fill="#a8a8a8" stroke="#000" stroke-width="0.6"/>
<text x="111.20" y="378.40" font-size="6.2" font-family='"Liberation Serif", serif' font-weight="normal" text-anchor="start" fill="#222" stroke="#222" stroke-width="0.22" >MAPC DL</text>
<text x="159.20" y="335.00" font-size="11.5" font-family='"Liberation Sans", sans-serif' font-weight="bold" text-anchor="start" fill="#000" stroke="#000" stroke-width="0.23" >F</text>
<line x1="184.70" y1="358.40" x2="184.70" y2="451.50" stroke="#999" stroke-width="0.8" />
<line x1="184.70" y1="451.50" x2="364.30" y2="451.50" stroke="#999" stroke-width="0.8" />
<line x1="182.90" y1="451.50" x2="184.70" y2="451.50" stroke="#999" stroke-width="0.6" />
<text x="180.30" y="453.70" font-size="6.3" font-family='"Liberation Serif", serif' font-weight="normal" text-anchor="end" fill="#333" stroke="#333" stroke-width="0.22" >0</text>
<line x1="182.90" y1="420.63" x2="184.70" y2="420.63" stroke="#999" stroke-width="0.6" />
<text x="180.30" y="422.83" font-size="6.3" font-family='"Liberation Serif", serif' font-weight="normal" text-anchor="end" fill="#333" stroke="#333" stroke-width="0.22" >5</text>
<line x1="182.90" y1="389.77" x2="184.70" y2="389.77" stroke="#999" stroke-width="0.6" />
<text x="180.30" y="391.97" font-size="6.3" font-family='"Liberation Serif", serif' font-weight="normal" text-anchor="end" fill="#333" stroke="#333" stroke-width="0.22" >10</text>
<line x1="182.90" y1="358.90" x2="184.70" y2="358.90" stroke="#999" stroke-width="0.6" />
<text x="180.30" y="361.10" font-size="6.3" font-family='"Liberation Serif", serif' font-weight="normal" text-anchor="end" fill="#333" stroke="#333" stroke-width="0.22" >15</text>
<line x1="184.70" y1="451.50" x2="184.70" y2="453.30" stroke="#999" stroke-width="0.6" />
<line x1="229.60" y1="451.50" x2="229.60" y2="453.30" stroke="#999" stroke-width="0.6" />
<line x1="274.50" y1="451.50" x2="274.50" y2="453.30" stroke="#999" stroke-width="0.6" />
<line x1="319.40" y1="451.50" x2="319.40" y2="453.30" stroke="#999" stroke-width="0.6" />
<line x1="364.30" y1="451.50" x2="364.30" y2="453.30" stroke="#999" stroke-width="0.6" />
<text x="207.50" y="464.60" font-size="6.5" font-family='"Liberation Serif", serif' font-weight="normal" text-anchor="middle" fill="#333" stroke="#333" stroke-width="0.23" >200:1</text>
<text x="252.20" y="464.60" font-size="6.5" font-family='"Liberation Serif", serif' font-weight="normal" text-anchor="middle" fill="#333" stroke="#333" stroke-width="0.23" >66:1</text>
<text x="296.90" y="464.60" font-size="6.5" font-family='"Liberation Serif", serif' font-weight="normal" text-anchor="middle" fill="#333" stroke="#333" stroke-width="0.23" >22:1</text>
<text x="341.30" y="464.60" font-size="6.5" font-family='"Liberation Serif", serif' font-weight="normal" text-anchor="middle" fill="#333" stroke="#333" stroke-width="0.23" >7:1</text>
<polyline points="207.50,372.79 252.20,406.13 296.90,424.34 341.30,445.94" fill="none" stroke="#888" stroke-width="0.9"/>
<circle cx="207.50" cy="372.79" r="0.8" fill="#666"/>
<circle cx="252.20" cy="406.13" r="0.8" fill="#666"/>
<circle cx="296.90" cy="424.34" r="0.8" fill="#666"/>
<circle cx="341.30" cy="445.94" r="0.8" fill="#666"/>
<polyline points="207.50,404.27 252.20,421.87 296.90,434.83 341.30,446.25" fill="none" stroke="#888" stroke-width="0.9"/>
<circle cx="207.50" cy="404.27" r="0.8" fill="#666"/>
<circle cx="252.20" cy="421.87" r="0.8" fill="#666"/>
<circle cx="296.90" cy="434.83" r="0.8" fill="#666"/>
<circle cx="341.30" cy="446.25" r="0.8" fill="#666"/>
<line x1="207.50" y1="376.49" x2="207.50" y2="369.09" stroke="#666" stroke-width="0.5" />
<line x1="206.70" y1="369.09" x2="208.30" y2="369.09" stroke="#666" stroke-width="0.5" />
<line x1="206.70" y1="376.49" x2="208.30" y2="376.49" stroke="#666" stroke-width="0.5" />
<line x1="252.20" y1="406.74" x2="252.20" y2="405.51" stroke="#666" stroke-width="0.5" />
<line x1="251.40" y1="405.51" x2="253.00" y2="405.51" stroke="#666" stroke-width="0.5" />
<line x1="251.40" y1="406.74" x2="253.00" y2="406.74" stroke="#666" stroke-width="0.5" />
<line x1="296.90" y1="427.42" x2="296.90" y2="421.25" stroke="#666" stroke-width="0.5" />
<line x1="296.10" y1="421.25" x2="297.70" y2="421.25" stroke="#666" stroke-width="0.5" />
<line x1="296.10" y1="427.42" x2="297.70" y2="427.42" stroke="#666" stroke-width="0.5" />
<line x1="341.30" y1="449.65" x2="341.30" y2="442.24" stroke="#666" stroke-width="0.5" />
<line x1="340.50" y1="442.24" x2="342.10" y2="442.24" stroke="#666" stroke-width="0.5" />
<line x1="340.50" y1="449.65" x2="342.10" y2="449.65" stroke="#666" stroke-width="0.5" />
<text x="0" y="0" transform="translate(164.4,400.2) rotate(-90)" font-size="6.4" font-family='"Liberation Sans", sans-serif' text-anchor="middle" fill="#111" stroke="#111" stroke-width="0.22">Specific Lysis (%)</text>
<text x="198.60" y="367.40" font-size="6.5" font-family='"Liberation Sans", sans-serif' font-weight="normal" text-anchor="start" fill="#111" stroke="#111" stroke-width="0.23" >Yac-1</text>
<text x="199.10" y="401.50" font-size="6.5" font-family='"Liberation Sans", sans-serif' font-weight="normal" text-anchor="start" fill="#111" stroke="#111" stroke-width="0.23" >MAPC</text>
<text x="266.00" y="479.70" font-size="6.6" font-family='"Liberation Sans", sans-serif' font-weight="normal" text-anchor="start" fill="#111" stroke="#111" stroke-width="0.23" >E/T ratio</text>
</svg>
</div>
</body></html>
